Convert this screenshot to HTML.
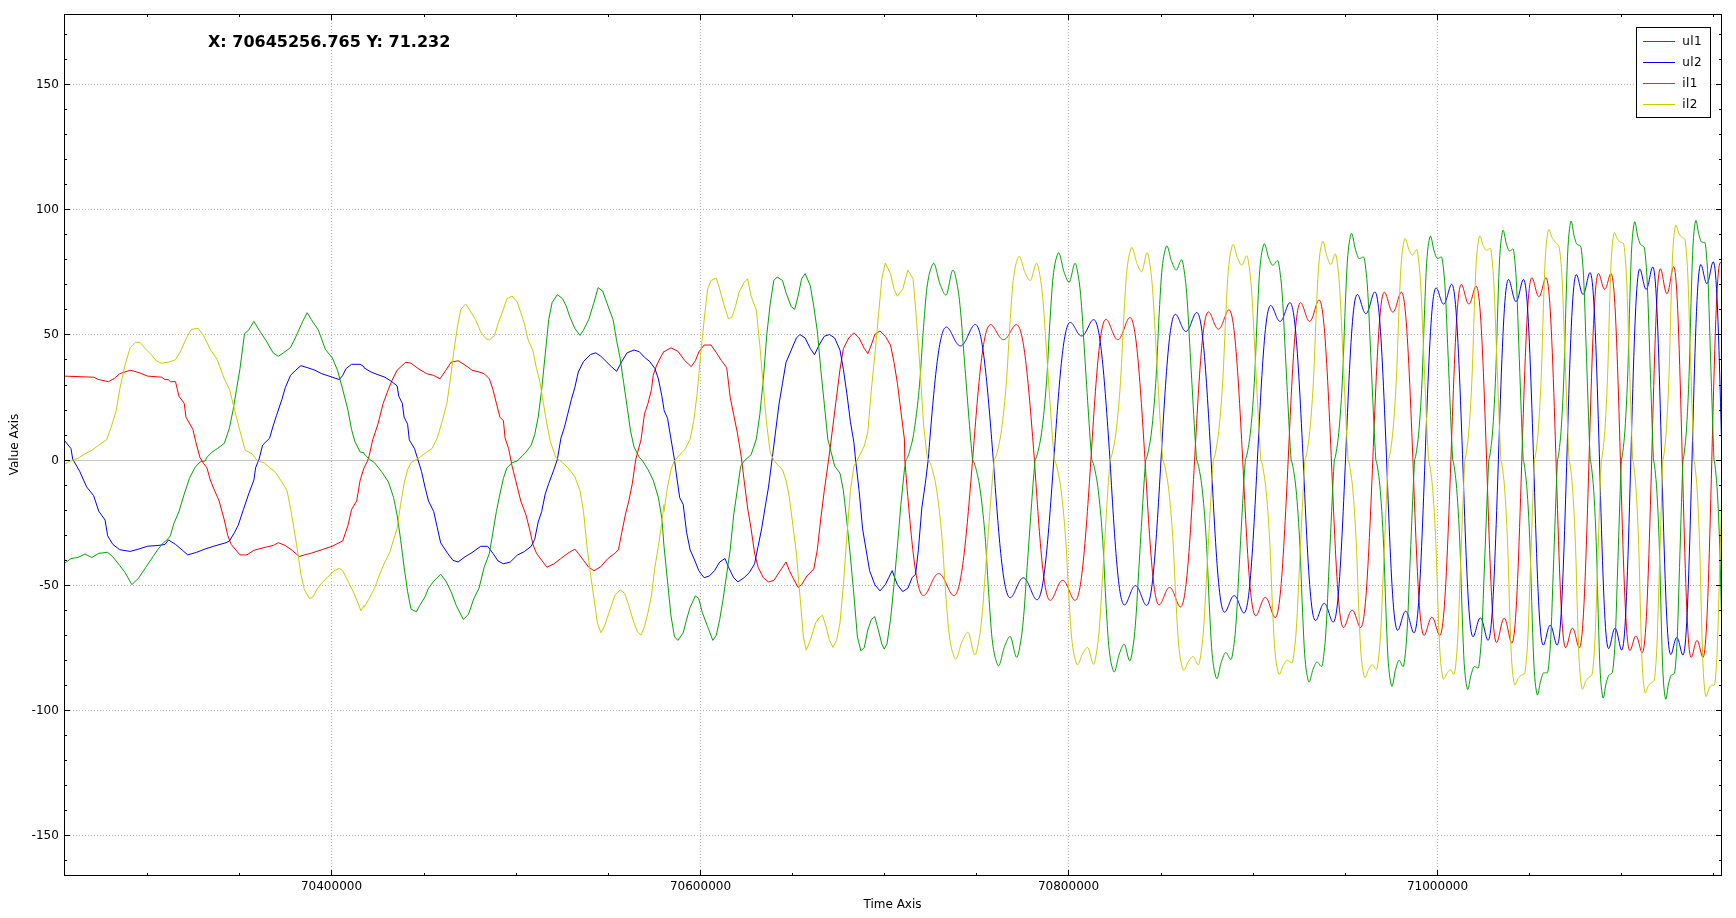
<!DOCTYPE html>
<html><head><meta charset="utf-8"><title>Chart</title>
<style>html,body{margin:0;padding:0;background:#fff;width:1736px;height:918px;overflow:hidden}svg{display:block;will-change:transform}</style>
</head><body>
<svg width="1736" height="918" viewBox="0 0 1736 918">
<rect width="1736" height="918" fill="#fff"/>
<g stroke="#b4b4b4" stroke-width="1" stroke-dasharray="1 2" fill="none"><line x1="331.5" y1="14" x2="331.5" y2="875" /><line x1="700.5" y1="14" x2="700.5" y2="875" /><line x1="1068.5" y1="14" x2="1068.5" y2="875" /><line x1="1437.5" y1="14" x2="1437.5" y2="875" /><line x1="64" y1="84.5" x2="1721" y2="84.5" /><line x1="64" y1="209.5" x2="1721" y2="209.5" /><line x1="64" y1="334.5" x2="1721" y2="334.5" /><line x1="64" y1="585.5" x2="1721" y2="585.5" /><line x1="64" y1="710.5" x2="1721" y2="710.5" /><line x1="64" y1="835.5" x2="1721" y2="835.5" /></g><line x1="64" y1="460.5" x2="1721" y2="460.5" stroke="#c8c8c8" stroke-width="1"/><defs><clipPath id="pc"><rect x="65" y="15" width="1656" height="860"/></clipPath></defs><g clip-path="url(#pc)" fill="none" stroke-width="1" stroke-linejoin="round"><path d="M64.0,376.1 93.6,377.2 98.8,379.6 108.6,381.7 114.5,378.2 119.7,373.7 130.2,370.2 138.9,372.6 147.6,376.1 161.6,377.2 165.0,379.6 168.5,379.6 170.3,381.7 175.5,381.7 179.0,396.3 184.2,403.3 186.0,417.2 192.9,429.4 195.7,441.6 199.9,457.3 203.4,463.2 206.9,467.8 210.3,480.0 214.5,490.4 219.1,500.9 224.3,520.0 227.8,535.7 231.2,544.4 240.0,554.9 246.9,554.9 253.9,550.3 262.6,547.9 273.1,545.5 278.3,542.7 285.3,545.5 292.2,550.3 299.2,556.6 304.4,554.9 311.4,553.1 321.8,549.7 332.3,546.2 342.7,540.9 348.0,525.3 351.5,509.6 356.7,500.9 360.2,480.0 364.0,467.9 367.5,461.0 369.2,455.6 372.7,439.9 377.9,424.2 383.2,403.3 388.4,389.4 391.9,380.7 397.1,370.2 405.8,362.2 411.0,363.2 418.0,368.5 426.7,373.7 433.7,375.4 440.0,378.9 445.9,370.2 451.1,362.2 458.1,360.8 465.0,365.0 472.0,370.2 479.0,372.0 484.2,373.7 489.4,378.9 492.9,389.4 496.4,403.3 499.9,417.2 503.4,420.7 505.1,438.2 508.6,448.6 512.1,466.2 515.6,480.1 520.8,501.0 526.0,515.0 529.5,528.9 533.0,544.6 536.5,553.3 541.7,560.3 546.9,567.2 553.9,563.8 560.9,558.5 567.8,553.3 574.8,549.1 578.3,553.3 583.5,560.3 588.7,567.2 594.0,570.7 600.9,566.6 607.9,558.5 614.9,553.3 618.4,549.8 621.8,532.4 625.3,515.0 628.8,501.0 632.3,483.6 635.8,459.1 641.0,439.9 644.5,413.8 648.0,403.3 651.5,389.4 653.2,375.4 656.7,365.0 660.2,358.0 664.0,351.3 664.0,351.7 671.0,347.8 677.9,351.3 684.9,360.7 691.2,366.6 695.4,360.7 698.8,352.0 704.1,345.0 711.0,345.0 716.3,352.6 721.5,360.7 726.7,367.6 730.2,397.2 733.7,414.7 737.2,432.1 740.7,453.0 744.1,480.1 747.6,508.0 751.1,528.9 754.6,553.3 758.1,567.2 763.3,577.7 768.5,581.9 773.8,580.5 779.0,572.5 786.0,562.0 789.4,570.7 792.9,577.7 798.1,587.5 801.6,584.7 806.9,576.0 813.8,569.0 817.3,549.8 820.8,518.5 824.3,490.6 829.5,453.0 833.0,425.1 836.5,397.2 840.0,369.4 843.4,348.5 848.7,338.0 853.9,332.8 859.1,338.0 864.3,348.5 867.8,353.7 871.3,345.0 874.8,334.5 880.0,331.0 885.3,336.3 890.5,345.0 894.0,362.4 897.4,383.3 900.9,411.2 904.4,439.1 904.8,459.9 905.3,466.1 905.8,472.3 906.3,478.4 906.8,484.5 907.3,490.6 907.8,496.5 908.3,502.4 908.8,508.2 909.3,513.9 909.8,519.4 910.3,524.8 910.8,530.1 911.3,535.2 911.8,540.1 912.3,544.9 912.8,549.4 913.3,553.8 913.8,558.0 914.3,561.9 914.8,565.7 915.3,569.2 915.8,572.5 916.3,575.6 916.8,578.4 917.3,581.0 917.8,583.4 918.3,585.6 918.8,587.5 919.3,589.3 919.8,590.8 920.3,592.1 920.8,593.1 921.3,594.0 921.8,594.7 922.3,595.2 922.8,595.5 923.3,595.6 923.8,595.6 924.3,595.4 924.8,595.1 925.3,594.7 925.8,594.1 926.3,593.4 926.8,592.7 927.3,591.8 927.8,590.9 928.3,589.9 928.8,588.9 929.3,587.8 929.8,586.7 930.3,585.6 930.8,584.5 931.3,583.4 931.8,582.3 932.3,581.2 932.8,580.2 933.3,579.2 933.8,578.3 934.3,577.4 934.8,576.6 935.3,575.9 935.8,575.3 936.3,574.8 936.8,574.4 937.3,574.0 937.8,573.8 938.3,573.6 938.8,573.6 939.3,573.7 939.8,573.9 940.3,574.1 940.8,574.5 941.3,575.0 941.8,575.6 942.3,576.2 942.8,576.9 943.3,577.8 943.8,578.6 944.3,579.6 944.8,580.6 945.3,581.6 945.8,582.7 946.3,583.8 946.8,584.9 947.3,586.0 947.8,587.1 948.3,588.2 948.8,589.3 949.3,590.3 949.8,591.3 950.3,592.2 950.8,593.0 951.3,593.7 951.8,594.4 952.3,594.9 952.8,595.3 953.3,595.5 953.8,595.6 954.3,595.6 954.8,595.4 955.3,595.0 955.8,594.4 956.3,593.7 956.8,592.7 957.3,591.6 957.8,590.2 958.3,588.6 958.8,586.8 959.3,584.8 959.8,582.5 960.3,580.0 960.8,577.3 961.3,574.4 961.8,571.2 962.3,567.8 962.8,564.2 963.3,560.4 963.8,556.3 964.3,552.1 964.8,547.6 965.3,543.0 965.8,538.2 966.3,533.2 966.8,528.0 967.3,522.7 967.8,517.2 968.3,511.6 968.8,505.9 969.3,500.1 969.8,494.2 970.3,488.2 970.8,482.1 971.3,476.0 971.8,469.8 972.3,463.6 972.6,459.9 973.1,453.4 973.6,446.9 974.1,440.5 974.6,434.1 975.1,427.7 975.6,421.5 976.1,415.4 976.6,409.3 977.1,403.5 977.6,397.7 978.1,392.1 978.6,386.7 979.1,381.5 979.6,376.5 980.1,371.7 980.6,367.1 981.1,362.7 981.6,358.6 982.1,354.7 982.6,351.0 983.1,347.6 983.6,344.4 984.1,341.5 984.6,338.8 985.1,336.4 985.6,334.2 986.1,332.3 986.6,330.6 987.1,329.1 987.6,327.9 988.1,326.8 988.6,326.0 989.1,325.4 989.6,325.0 990.1,324.7 990.6,324.6 991.1,324.7 991.6,324.9 992.1,325.3 992.6,325.7 993.1,326.3 993.6,326.9 994.1,327.7 994.6,328.5 995.1,329.3 995.6,330.2 996.1,331.1 996.6,332.0 997.1,332.9 997.6,333.7 998.1,334.6 998.6,335.4 999.1,336.2 999.6,336.9 1000.1,337.5 1000.6,338.1 1001.1,338.6 1001.6,339.0 1002.1,339.3 1002.6,339.5 1003.1,339.6 1003.6,339.7 1004.1,339.6 1004.6,339.4 1005.1,339.2 1005.6,338.8 1006.1,338.4 1006.6,337.9 1007.1,337.3 1007.6,336.6 1008.1,335.9 1008.6,335.1 1009.1,334.2 1009.6,333.4 1010.1,332.5 1010.6,331.6 1011.1,330.7 1011.6,329.8 1012.1,329.0 1012.6,328.1 1013.1,327.4 1013.6,326.7 1014.1,326.1 1014.6,325.5 1015.1,325.1 1015.6,324.8 1016.1,324.7 1016.6,324.7 1017.1,324.8 1017.6,325.1 1018.1,325.6 1018.6,326.3 1019.1,327.2 1019.6,328.3 1020.1,329.7 1020.6,331.2 1021.1,333.0 1021.6,335.1 1022.1,337.3 1022.6,339.9 1023.1,342.6 1023.6,345.7 1024.1,348.9 1024.6,352.4 1025.1,356.2 1025.6,360.2 1026.1,364.4 1026.6,368.9 1027.1,373.6 1027.6,378.5 1028.1,383.6 1028.6,388.9 1029.1,394.4 1029.6,400.0 1030.1,405.8 1030.6,411.7 1031.1,417.8 1031.6,424.0 1032.1,430.3 1032.6,436.6 1033.1,443.0 1033.6,449.5 1034.1,456.0 1034.4,459.9 1034.9,467.5 1035.4,475.0 1035.9,482.5 1036.4,490.0 1036.9,497.3 1037.4,504.5 1037.9,511.5 1038.4,518.4 1038.9,525.1 1039.4,531.6 1039.9,537.8 1040.4,543.8 1040.9,549.6 1041.4,555.0 1041.9,560.2 1042.4,565.1 1042.9,569.7 1043.4,573.9 1043.9,577.8 1044.4,581.4 1044.9,584.7 1045.4,587.7 1045.9,590.3 1046.4,592.6 1046.9,594.5 1047.4,596.2 1047.9,597.6 1048.4,598.7 1048.9,599.5 1049.4,600.0 1049.9,600.3 1050.4,600.4 1050.9,600.2 1051.4,599.9 1051.9,599.3 1052.4,598.6 1052.9,597.8 1053.4,596.9 1053.9,595.8 1054.4,594.7 1054.9,593.5 1055.4,592.3 1055.9,591.0 1056.4,589.8 1056.9,588.5 1057.4,587.3 1057.9,586.2 1058.4,585.1 1058.9,584.1 1059.4,583.3 1059.9,582.5 1060.4,581.8 1060.9,581.2 1061.4,580.8 1061.9,580.5 1062.4,580.4 1062.9,580.4 1063.4,580.5 1063.9,580.8 1064.4,581.2 1064.9,581.8 1065.4,582.5 1065.9,583.3 1066.4,584.1 1066.9,585.1 1067.4,586.2 1067.9,587.3 1068.4,588.5 1068.9,589.8 1069.4,591.0 1069.9,592.3 1070.4,593.5 1070.9,594.7 1071.4,595.8 1071.9,596.9 1072.4,597.8 1072.9,598.6 1073.4,599.3 1073.9,599.9 1074.4,600.2 1074.9,600.4 1075.4,600.3 1075.9,600.0 1076.4,599.5 1076.9,598.7 1077.4,597.6 1077.9,596.2 1078.4,594.5 1078.9,592.6 1079.4,590.3 1079.9,587.7 1080.4,584.7 1080.9,581.4 1081.4,577.8 1081.9,573.9 1082.4,569.7 1082.9,565.1 1083.4,560.2 1083.9,555.0 1084.4,549.6 1084.9,543.8 1085.4,537.8 1085.9,531.6 1086.4,525.1 1086.9,518.4 1087.4,511.5 1087.9,504.5 1088.4,497.3 1088.9,490.0 1089.4,482.5 1089.9,475.0 1090.4,467.5 1090.9,459.9 1091.4,451.9 1091.9,444.0 1092.4,436.1 1092.9,428.3 1093.4,420.7 1093.9,413.1 1094.4,405.8 1094.9,398.6 1095.4,391.7 1095.9,385.0 1096.4,378.5 1096.9,372.4 1097.4,366.5 1097.9,361.0 1098.4,355.8 1098.9,350.9 1099.4,346.4 1099.9,342.2 1100.4,338.4 1100.9,335.0 1101.4,331.9 1101.9,329.1 1102.4,326.8 1102.9,324.8 1103.4,323.1 1103.9,321.7 1104.4,320.7 1104.9,320.0 1105.4,319.5 1105.9,319.3 1106.4,319.4 1106.9,319.7 1107.4,320.2 1107.9,320.9 1108.4,321.7 1108.9,322.7 1109.4,323.8 1109.9,325.0 1110.4,326.3 1110.9,327.6 1111.4,328.9 1111.9,330.3 1112.4,331.6 1112.9,332.8 1113.4,334.0 1113.9,335.2 1114.4,336.2 1114.9,337.1 1115.4,337.9 1115.9,338.6 1116.4,339.1 1116.9,339.4 1117.4,339.6 1117.9,339.7 1118.4,339.6 1118.9,339.3 1119.4,338.8 1119.9,338.3 1120.4,337.5 1120.9,336.7 1121.4,335.7 1121.9,334.6 1122.4,333.4 1122.9,332.1 1123.4,330.7 1123.9,329.3 1124.4,327.9 1124.9,326.5 1125.4,325.1 1125.9,323.8 1126.4,322.5 1126.9,321.3 1127.4,320.3 1127.9,319.3 1128.4,318.6 1128.9,318.0 1129.4,317.6 1129.9,317.5 1130.4,317.6 1130.9,318.0 1131.4,318.7 1131.9,319.6 1132.4,320.9 1132.9,322.6 1133.4,324.5 1133.9,326.9 1134.4,329.5 1134.9,332.6 1135.4,336.0 1135.9,339.8 1136.4,343.9 1136.9,348.5 1137.4,353.3 1137.9,358.5 1138.4,364.1 1138.9,370.0 1139.4,376.2 1139.9,382.6 1140.4,389.4 1140.9,396.4 1141.4,403.6 1141.9,411.0 1142.4,418.6 1142.9,426.3 1143.4,434.2 1143.9,442.2 1144.4,450.2 1144.9,458.3 1145.0,459.9 1145.5,468.7 1146.0,477.4 1146.5,486.1 1147.0,494.7 1147.5,503.1 1148.0,511.3 1148.5,519.3 1149.0,527.1 1149.5,534.6 1150.0,541.8 1150.5,548.7 1151.0,555.2 1151.5,561.3 1152.0,567.1 1152.5,572.4 1153.0,577.4 1153.5,581.9 1154.0,586.0 1154.5,589.7 1155.0,592.9 1155.5,595.7 1156.0,598.2 1156.5,600.2 1157.0,601.8 1157.5,603.1 1158.0,604.0 1158.5,604.5 1159.0,604.8 1159.5,604.8 1160.0,604.5 1160.5,604.0 1161.0,603.3 1161.5,602.4 1162.0,601.4 1162.5,600.3 1163.0,599.1 1163.5,597.8 1164.0,596.5 1164.5,595.2 1165.0,594.0 1165.5,592.8 1166.0,591.6 1166.5,590.6 1167.0,589.7 1167.5,588.9 1168.0,588.3 1168.5,587.8 1169.0,587.5 1169.5,587.4 1170.0,587.4 1170.5,587.7 1171.0,588.1 1171.5,588.6 1172.0,589.4 1172.5,590.2 1173.0,591.2 1173.5,592.4 1174.0,593.6 1174.5,594.9 1175.0,596.3 1175.5,597.7 1176.0,599.0 1176.5,600.4 1177.0,601.7 1177.5,603.0 1178.0,604.1 1178.5,605.0 1179.0,605.8 1179.5,606.4 1180.0,606.8 1180.5,606.9 1181.0,606.7 1181.5,606.2 1182.0,605.4 1182.5,604.2 1183.0,602.6 1183.5,600.7 1184.0,598.3 1184.5,595.6 1185.0,592.3 1185.5,588.7 1186.0,584.6 1186.5,580.1 1187.0,575.2 1187.5,569.9 1188.0,564.1 1188.5,557.9 1189.0,551.4 1189.5,544.5 1190.0,537.3 1190.5,529.7 1191.0,521.9 1191.5,513.8 1192.0,505.4 1192.5,496.9 1193.0,488.3 1193.5,479.5 1194.0,470.6 1194.5,461.7 1194.6,459.9 1195.1,450.7 1195.6,441.5 1196.1,432.4 1196.6,423.4 1197.1,414.6 1197.6,406.0 1198.1,397.6 1198.6,389.5 1199.1,381.7 1199.6,374.3 1200.1,367.2 1200.6,360.5 1201.1,354.2 1201.6,348.3 1202.1,342.8 1202.6,337.8 1203.1,333.3 1203.6,329.2 1204.1,325.6 1204.6,322.4 1205.1,319.7 1205.6,317.4 1206.1,315.6 1206.6,314.1 1207.1,313.0 1207.6,312.3 1208.1,312.0 1208.6,311.9 1209.1,312.1 1209.6,312.6 1210.1,313.3 1210.6,314.2 1211.1,315.2 1211.6,316.4 1212.1,317.6 1212.6,318.9 1213.1,320.2 1213.6,321.6 1214.1,322.9 1214.6,324.1 1215.1,325.2 1215.6,326.2 1216.1,327.1 1216.6,327.9 1217.1,328.5 1217.6,328.9 1218.1,329.1 1218.6,329.2 1219.1,329.0 1219.6,328.7 1220.1,328.2 1220.6,327.5 1221.1,326.6 1221.6,325.6 1222.1,324.5 1222.6,323.3 1223.1,321.9 1223.6,320.5 1224.1,319.1 1224.6,317.7 1225.1,316.3 1225.6,314.9 1226.1,313.7 1226.6,312.5 1227.1,311.6 1227.6,310.8 1228.1,310.2 1228.6,309.9 1229.1,309.9 1229.6,310.1 1230.1,310.8 1230.6,311.8 1231.1,313.1 1231.6,314.9 1232.1,317.1 1232.6,319.8 1233.1,322.9 1233.6,326.5 1234.1,330.5 1234.6,335.1 1235.1,340.0 1235.6,345.5 1236.1,351.3 1236.6,357.7 1237.1,364.4 1237.6,371.5 1238.1,379.0 1238.6,386.9 1239.1,395.0 1239.6,403.5 1240.1,412.2 1240.6,421.1 1241.1,430.2 1241.6,439.4 1242.1,448.7 1242.6,458.0 1242.7,459.9 1243.2,470.2 1243.7,480.4 1244.2,490.5 1244.7,500.5 1245.2,510.2 1245.7,519.7 1246.2,528.9 1246.7,537.8 1247.2,546.3 1247.7,554.4 1248.2,562.0 1248.7,569.2 1249.2,575.9 1249.7,582.1 1250.2,587.7 1250.7,592.8 1251.2,597.4 1251.7,601.4 1252.2,604.9 1252.7,607.9 1253.2,610.3 1253.7,612.3 1254.2,613.8 1254.7,614.9 1255.2,615.5 1255.7,615.7 1256.2,615.6 1256.7,615.2 1257.2,614.5 1257.7,613.6 1258.2,612.5 1258.7,611.2 1259.2,609.8 1259.7,608.4 1260.2,606.9 1260.7,605.4 1261.2,604.0 1261.7,602.6 1262.2,601.4 1262.7,600.3 1263.2,599.3 1263.7,598.5 1264.2,597.9 1264.7,597.6 1265.2,597.4 1265.7,597.5 1266.2,597.8 1266.7,598.3 1267.2,599.0 1267.7,599.9 1268.2,600.9 1268.7,602.2 1269.2,603.5 1269.7,605.0 1270.2,606.6 1270.7,608.1 1271.2,609.7 1271.7,611.2 1272.2,612.7 1272.7,614.1 1273.2,615.2 1273.7,616.2 1274.2,617.0 1274.7,617.4 1275.2,617.5 1275.7,617.3 1276.2,616.7 1276.7,615.7 1277.2,614.2 1277.7,612.2 1278.2,609.7 1278.7,606.7 1279.2,603.2 1279.7,599.1 1280.2,594.5 1280.7,589.3 1281.2,583.6 1281.7,577.3 1282.2,570.6 1282.7,563.3 1283.2,555.6 1283.7,547.4 1284.2,538.8 1284.7,529.8 1285.2,520.5 1285.7,510.8 1286.2,501.0 1286.7,490.9 1287.2,480.6 1287.7,470.3 1288.2,459.9 1288.7,449.0 1289.2,438.1 1289.7,427.3 1290.2,416.7 1290.7,406.4 1291.2,396.3 1291.7,386.6 1292.2,377.3 1292.7,368.5 1293.2,360.1 1293.7,352.2 1294.2,344.9 1294.7,338.2 1295.2,332.0 1295.7,326.5 1296.2,321.5 1296.7,317.2 1297.2,313.5 1297.7,310.3 1298.2,307.7 1298.7,305.7 1299.2,304.2 1299.7,303.3 1300.2,302.7 1300.7,302.6 1301.2,302.9 1301.7,303.5 1302.2,304.4 1302.7,305.5 1303.2,306.8 1303.7,308.3 1304.2,309.8 1304.7,311.4 1305.2,313.0 1305.7,314.6 1306.2,316.1 1306.7,317.4 1307.2,318.6 1307.7,319.6 1308.2,320.4 1308.7,321.0 1309.2,321.3 1309.7,321.4 1310.2,321.2 1310.7,320.8 1311.2,320.1 1311.7,319.2 1312.2,318.1 1312.7,316.8 1313.2,315.4 1313.7,313.8 1314.2,312.1 1314.7,310.3 1315.2,308.6 1315.7,306.9 1316.2,305.3 1316.7,303.8 1317.2,302.5 1317.7,301.4 1318.2,300.6 1318.7,300.1 1319.2,300.0 1319.7,300.4 1320.2,301.1 1320.7,302.4 1321.2,304.2 1321.7,306.6 1322.2,309.5 1322.7,313.1 1323.2,317.3 1323.7,322.0 1324.2,327.4 1324.7,333.5 1325.2,340.1 1325.7,347.3 1326.2,355.1 1326.7,363.4 1327.2,372.2 1327.7,381.5 1328.2,391.2 1328.7,401.3 1329.2,411.7 1329.7,422.4 1330.2,433.3 1330.7,444.3 1331.2,455.4 1331.4,459.9 1331.9,471.8 1332.4,483.7 1332.9,495.4 1333.4,506.9 1333.9,518.2 1334.4,529.1 1334.9,539.6 1335.4,549.6 1335.9,559.2 1336.4,568.2 1336.9,576.6 1337.4,584.4 1337.9,591.5 1338.4,598.0 1338.9,603.8 1339.4,609.0 1339.9,613.5 1340.4,617.3 1340.9,620.4 1341.4,623.0 1341.9,624.9 1342.4,626.3 1342.9,627.1 1343.4,627.5 1343.9,627.5 1344.4,627.0 1344.9,626.3 1345.4,625.3 1345.9,624.0 1346.4,622.6 1346.9,621.1 1347.4,619.5 1347.9,618.0 1348.4,616.4 1348.9,615.0 1349.4,613.7 1349.9,612.6 1350.4,611.6 1350.9,610.9 1351.4,610.4 1351.9,610.2 1352.4,610.2 1352.9,610.5 1353.4,611.0 1353.9,611.8 1354.4,612.8 1354.9,614.0 1355.4,615.3 1355.9,616.7 1356.4,618.3 1356.9,619.8 1357.4,621.4 1357.9,622.9 1358.4,624.3 1358.9,625.5 1359.4,626.5 1359.9,627.1 1360.4,627.5 1360.9,627.5 1361.4,627.0 1361.9,626.0 1362.4,624.6 1362.9,622.5 1363.4,619.8 1363.9,616.6 1364.4,612.6 1364.9,608.0 1365.4,602.7 1365.9,596.8 1366.4,590.2 1366.9,582.9 1367.4,575.0 1367.9,566.4 1368.4,557.3 1368.9,547.7 1369.4,537.5 1369.9,526.9 1370.4,516.0 1370.9,504.7 1371.4,493.1 1371.9,481.3 1372.4,469.5 1372.8,459.9 1373.3,447.4 1373.8,435.0 1374.3,422.7 1374.8,410.7 1375.3,399.0 1375.8,387.7 1376.3,376.8 1376.8,366.5 1377.3,356.7 1377.8,347.5 1378.3,339.0 1378.8,331.2 1379.3,324.1 1379.8,317.7 1380.3,312.1 1380.8,307.2 1381.3,303.0 1381.8,299.6 1382.3,296.9 1382.8,294.8 1383.3,293.4 1383.8,292.5 1384.3,292.2 1384.8,292.4 1385.3,292.9 1385.8,293.9 1386.3,295.1 1386.8,296.6 1387.3,298.3 1387.8,300.0 1388.3,301.8 1388.8,303.6 1389.3,305.4 1389.8,307.0 1390.3,308.4 1390.8,309.7 1391.3,310.7 1391.8,311.5 1392.3,311.9 1392.8,312.1 1393.3,312.0 1393.8,311.6 1394.3,310.9 1394.8,309.9 1395.3,308.7 1395.8,307.3 1396.3,305.7 1396.8,304.0 1397.3,302.2 1397.8,300.4 1398.3,298.6 1398.8,296.9 1399.3,295.4 1399.8,294.1 1400.3,293.1 1400.8,292.4 1401.3,292.2 1401.8,292.4 1402.3,293.2 1402.8,294.5 1403.3,296.4 1403.8,299.0 1404.3,302.3 1404.8,306.3 1405.3,311.0 1405.8,316.5 1406.3,322.7 1406.8,329.7 1407.3,337.4 1407.8,345.8 1408.3,354.8 1408.8,364.5 1409.3,374.7 1409.8,385.5 1410.3,396.7 1410.8,408.3 1411.3,420.3 1411.8,432.5 1412.3,444.9 1412.8,457.4 1412.9,459.9 1413.4,473.5 1413.9,487.0 1414.4,500.3 1414.9,513.4 1415.4,526.1 1415.9,538.3 1416.4,549.9 1416.9,561.0 1417.4,571.4 1417.9,581.1 1418.4,590.1 1418.9,598.2 1419.4,605.5 1419.9,612.0 1420.4,617.6 1420.9,622.4 1421.4,626.4 1421.9,629.6 1422.4,632.0 1422.9,633.8 1423.4,634.9 1423.9,635.3 1424.4,635.3 1424.9,634.7 1425.4,633.8 1425.9,632.6 1426.4,631.1 1426.9,629.4 1427.4,627.6 1427.9,625.9 1428.4,624.1 1428.9,622.4 1429.4,621.0 1429.9,619.7 1430.4,618.6 1430.9,617.8 1431.4,617.4 1431.9,617.2 1432.4,617.4 1432.9,617.8 1433.4,618.6 1433.9,619.7 1434.4,621.0 1434.9,622.4 1435.4,624.1 1435.9,625.9 1436.4,627.6 1436.9,629.4 1437.4,631.1 1437.9,632.6 1438.4,633.8 1438.9,634.7 1439.4,635.3 1439.9,635.3 1440.4,634.9 1440.9,633.8 1441.4,632.0 1441.9,629.6 1442.4,626.4 1442.9,622.4 1443.4,617.6 1443.9,612.0 1444.4,605.5 1444.9,598.2 1445.4,590.1 1445.9,581.1 1446.4,571.4 1446.9,561.0 1447.4,549.9 1447.9,538.3 1448.4,526.1 1448.9,513.4 1449.4,500.3 1449.9,487.0 1450.4,473.5 1450.9,459.9 1451.4,445.4 1451.9,430.9 1452.4,416.7 1452.9,402.9 1453.4,389.5 1453.9,376.7 1454.4,364.4 1454.9,353.0 1455.4,342.3 1455.9,332.4 1456.4,323.5 1456.9,315.5 1457.4,308.4 1457.9,302.3 1458.4,297.2 1458.9,293.0 1459.4,289.7 1459.9,287.3 1460.4,285.6 1460.9,284.7 1461.4,284.5 1461.9,284.8 1462.4,285.7 1462.9,287.0 1463.4,288.5 1463.9,290.4 1464.4,292.3 1464.9,294.3 1465.4,296.3 1465.9,298.2 1466.4,299.9 1466.9,301.4 1467.4,302.6 1467.9,303.4 1468.4,304.0 1468.9,304.1 1469.4,303.9 1469.9,303.3 1470.4,302.4 1470.9,301.2 1471.4,299.7 1471.9,298.1 1472.4,296.3 1472.9,294.4 1473.4,292.5 1473.9,290.7 1474.4,289.1 1474.9,287.8 1475.4,286.8 1475.9,286.3 1476.4,286.4 1476.9,287.0 1477.4,288.4 1477.9,290.5 1478.4,293.4 1478.9,297.2 1479.4,301.9 1479.9,307.6 1480.4,314.2 1480.9,321.7 1481.4,330.2 1481.9,339.6 1482.4,349.8 1482.9,360.9 1483.4,372.7 1483.9,385.1 1484.4,398.2 1484.9,411.7 1485.4,425.6 1485.9,439.8 1486.4,454.1 1486.6,459.9 1487.1,475.6 1487.6,491.2 1488.1,506.5 1488.6,521.4 1489.1,535.7 1489.6,549.5 1490.1,562.5 1490.6,574.7 1491.1,586.0 1491.6,596.3 1492.1,605.6 1492.6,613.9 1493.1,621.0 1493.6,627.1 1494.1,632.1 1494.6,636.1 1495.1,639.0 1495.6,641.0 1496.1,642.2 1496.6,642.5 1497.1,642.2 1497.6,641.2 1498.1,639.7 1498.6,637.8 1499.1,635.6 1499.6,633.3 1500.1,630.8 1500.6,628.3 1501.1,626.0 1501.6,623.8 1502.1,622.0 1502.6,620.4 1503.1,619.2 1503.6,618.5 1504.1,618.2 1504.6,618.4 1505.1,619.0 1505.6,620.0 1506.1,621.5 1506.6,623.3 1507.1,625.4 1507.6,627.7 1508.1,630.1 1508.6,632.7 1509.1,635.1 1509.6,637.4 1510.1,639.5 1510.6,641.1 1511.1,642.3 1511.6,643.0 1512.1,642.9 1512.6,642.1 1513.1,640.5 1513.6,637.9 1514.1,634.3 1514.6,629.7 1515.1,624.1 1515.6,617.3 1516.1,609.5 1516.6,600.6 1517.1,590.6 1517.6,579.7 1518.1,567.8 1518.6,555.1 1519.1,541.6 1519.6,527.4 1520.1,512.6 1520.6,497.4 1521.1,481.9 1521.6,466.2 1521.8,459.9 1522.3,444.2 1522.8,428.6 1523.3,413.4 1523.8,398.5 1524.3,384.1 1524.8,370.4 1525.3,357.4 1525.8,345.3 1526.3,334.0 1526.8,323.8 1527.3,314.6 1527.8,306.4 1528.3,299.3 1528.8,293.3 1529.3,288.3 1529.8,284.4 1530.3,281.4 1530.8,279.4 1531.3,278.2 1531.8,277.7 1532.3,278.0 1532.8,278.8 1533.3,280.0 1533.8,281.6 1534.3,283.5 1534.8,285.5 1535.3,287.6 1535.8,289.6 1536.3,291.5 1536.8,293.2 1537.3,294.6 1537.8,295.6 1538.3,296.3 1538.8,296.6 1539.3,296.5 1539.8,295.9 1540.3,295.0 1540.8,293.8 1541.3,292.2 1541.8,290.4 1542.3,288.4 1542.8,286.4 1543.3,284.3 1543.8,282.4 1544.3,280.6 1544.8,279.2 1545.3,278.2 1545.8,277.8 1546.3,277.9 1546.8,278.8 1547.3,280.5 1547.8,283.1 1548.3,286.6 1548.8,291.2 1549.3,296.8 1549.8,303.4 1550.3,311.2 1550.8,320.0 1551.3,329.8 1551.8,340.7 1552.3,352.4 1552.8,365.1 1553.3,378.5 1553.8,392.7 1554.3,407.3 1554.8,422.5 1555.3,438.0 1555.8,453.6 1556.0,459.9 1556.5,476.7 1557.0,493.3 1557.5,509.6 1558.0,525.4 1558.5,540.6 1559.0,555.1 1559.5,568.8 1560.0,581.5 1560.5,593.2 1561.0,603.8 1561.5,613.2 1562.0,621.5 1562.5,628.5 1563.0,634.4 1563.5,639.1 1564.0,642.7 1564.5,645.3 1565.0,646.9 1565.5,647.6 1566.0,647.5 1566.5,646.8 1567.0,645.6 1567.5,643.9 1568.0,642.0 1568.5,639.8 1569.0,637.6 1569.5,635.4 1570.0,633.4 1570.5,631.7 1571.0,630.2 1571.5,629.1 1572.0,628.4 1572.5,628.2 1573.0,628.4 1573.5,629.1 1574.0,630.2 1574.5,631.7 1575.0,633.4 1575.5,635.4 1576.0,637.6 1576.5,639.8 1577.0,642.0 1577.5,643.9 1578.0,645.6 1578.5,646.8 1579.0,647.5 1579.5,647.6 1580.0,646.9 1580.5,645.3 1581.0,642.7 1581.5,639.1 1582.0,634.4 1582.5,628.5 1583.0,621.5 1583.5,613.2 1584.0,603.8 1584.5,593.2 1585.0,581.5 1585.5,568.8 1586.0,555.1 1586.5,540.6 1587.0,525.4 1587.5,509.6 1588.0,493.3 1588.5,476.7 1589.0,459.9 1589.5,442.7 1590.0,425.7 1590.5,409.1 1591.0,392.9 1591.5,377.4 1592.0,362.7 1592.5,348.9 1593.0,336.2 1593.5,324.6 1594.0,314.1 1594.5,304.9 1595.0,296.9 1595.5,290.2 1596.0,284.7 1596.5,280.4 1597.0,277.2 1597.5,275.0 1598.0,273.8 1598.5,273.5 1599.0,273.8 1599.5,274.8 1600.0,276.1 1600.5,277.8 1601.0,279.7 1601.5,281.7 1602.0,283.6 1602.5,285.4 1603.0,286.9 1603.5,288.1 1604.0,288.9 1604.5,289.3 1605.0,289.3 1605.5,288.8 1606.0,287.9 1606.5,286.6 1607.0,285.1 1607.5,283.3 1608.0,281.3 1608.5,279.4 1609.0,277.5 1609.5,275.8 1610.0,274.5 1610.5,273.7 1611.0,273.5 1611.5,274.0 1612.0,275.4 1612.5,277.7 1613.0,281.2 1613.5,285.7 1614.0,291.4 1614.5,298.4 1615.0,306.6 1615.5,316.1 1616.0,326.8 1616.5,338.7 1617.0,351.6 1617.5,365.6 1618.0,380.5 1618.5,396.1 1619.0,412.4 1619.5,429.1 1620.0,446.2 1620.4,459.9 1620.9,477.4 1621.4,494.8 1621.9,511.8 1622.4,528.3 1622.9,544.1 1623.4,559.1 1623.9,573.2 1624.4,586.2 1624.9,598.1 1625.4,608.8 1625.9,618.2 1626.4,626.4 1626.9,633.3 1627.4,638.9 1627.9,643.3 1628.4,646.6 1628.9,648.9 1629.4,650.1 1629.9,650.6 1630.4,650.3 1630.9,649.4 1631.4,648.1 1631.9,646.5 1632.4,644.7 1632.9,642.8 1633.4,641.0 1633.9,639.3 1634.4,637.9 1634.9,636.9 1635.4,636.2 1635.9,636.0 1636.4,636.2 1636.9,636.8 1637.4,637.8 1637.9,639.2 1638.4,640.9 1638.9,642.9 1639.4,644.9 1639.9,646.9 1640.4,648.8 1640.9,650.5 1641.4,651.7 1641.9,652.5 1642.4,652.5 1642.9,651.8 1643.4,650.2 1643.9,647.6 1644.4,643.8 1644.9,638.9 1645.4,632.7 1645.9,625.2 1646.4,616.5 1646.9,606.4 1647.4,595.1 1647.9,582.6 1648.4,569.0 1648.9,554.4 1649.4,538.8 1649.9,522.5 1650.4,505.6 1650.9,488.2 1651.4,470.6 1651.7,459.9 1652.2,441.0 1652.7,422.3 1653.2,404.1 1653.7,386.5 1654.2,369.7 1654.7,353.8 1655.2,339.1 1655.7,325.7 1656.2,313.6 1656.7,303.0 1657.2,293.8 1657.7,286.2 1658.2,280.0 1658.7,275.2 1659.2,271.9 1659.7,269.8 1660.2,268.9 1660.7,269.0 1661.2,270.0 1661.7,271.7 1662.2,274.0 1662.7,276.6 1663.2,279.5 1663.7,282.4 1664.2,285.2 1664.7,287.8 1665.2,290.0 1665.7,291.8 1666.2,293.0 1666.7,293.5 1667.2,293.5 1667.7,292.8 1668.2,291.5 1668.7,289.7 1669.2,287.4 1669.7,284.7 1670.2,281.7 1670.7,278.6 1671.2,275.6 1671.7,272.7 1672.2,270.2 1672.7,268.3 1673.2,267.1 1673.7,266.7 1674.2,267.4 1674.7,269.2 1675.2,272.3 1675.7,276.8 1676.2,282.8 1676.7,290.2 1677.2,299.2 1677.7,309.7 1678.2,321.6 1678.7,334.9 1679.2,349.5 1679.7,365.3 1680.2,382.2 1680.7,399.8 1681.2,418.2 1681.7,437.0 1682.2,456.1 1682.3,459.9 1682.8,479.2 1683.3,498.4 1683.8,517.1 1684.3,535.1 1684.8,552.3 1685.3,568.5 1685.8,583.6 1686.3,597.4 1686.8,609.8 1687.3,620.7 1687.8,630.1 1688.3,638.1 1688.8,644.5 1689.3,649.6 1689.8,653.2 1690.3,655.7 1690.8,657.0 1691.3,657.3 1691.8,656.7 1692.3,655.5 1692.8,653.9 1693.3,651.8 1693.8,649.6 1694.3,647.4 1694.8,645.4 1695.3,643.5 1695.8,642.1 1696.3,641.1 1696.8,640.6 1697.3,640.6 1697.8,641.1 1698.3,642.1 1698.8,643.5 1699.3,645.4 1699.8,647.4 1700.3,649.6 1700.8,651.8 1701.3,653.9 1701.8,655.5 1702.3,656.7 1702.8,657.3 1703.3,657.0 1703.8,655.7 1704.3,653.2 1704.8,649.6 1705.3,644.5 1705.8,638.1 1706.3,630.1 1706.8,620.7 1707.3,609.8 1707.8,597.4 1708.3,583.6 1708.8,568.5 1709.3,552.3 1709.8,535.1 1710.3,517.1 1710.8,498.4 1711.3,479.2 1711.8,459.9 1712.3,440.0 1712.8,420.4 1713.3,401.3 1713.8,382.8 1714.3,365.2 1714.8,348.7 1715.3,333.5 1715.8,319.6 1716.3,307.1 1716.8,296.3 1717.3,286.9 1717.8,279.2 1718.3,273.1 1718.8,268.4 1719.3,265.1 1719.8,263.2 1720.3,262.4 1720.8,262.6 1721.3,263.6 1721.8,265.3 1722.3,267.4 1722.8,269.9 1723.3,272.4 1723.8,274.9 1724.3,277.2 1724.8,279.1 1725.3,280.7 1725.8,281.6 1726.3,282.1 1726.8,281.9 1727.3,281.1 1727.8,279.8 1728.3,278.0 1728.8,275.9 1729.3,273.4 1729.8,270.9 1730.3,268.4 1730.8,266.1 1731.3,264.2 1731.8,262.9 1732.3,262.4 1732.8,262.7 1733.3,264.2 1733.8,266.9 1734.3,271.0 1734.8,276.6 1735.3,283.7 1735.8,292.3 1736.3,302.6 1736.8,314.4 1737.3,327.7 1737.8,342.5 1738.3,358.5 1738.8,375.7 1739.3,393.8 1739.8,412.7 1740.3,432.2 1740.8,451.9 1741.0,459.9" stroke="#ff0000"/><path d="M64.0,439.9 71.0,448.6 72.7,459.1 79.7,471.3 86.6,486.9 93.6,495.6 98.8,511.3 105.1,520.0 107.6,535.7 112.8,544.4 119.7,549.7 130.2,551.4 138.9,549.0 147.6,546.2 158.1,545.5 165.0,544.4 168.5,539.9 175.5,544.4 182.5,550.3 187.7,554.9 196.4,552.4 205.1,549.0 213.8,546.2 226.0,542.7 229.5,540.9 234.7,532.2 238.2,525.3 243.4,509.6 248.7,493.9 253.9,480.0 255.6,467.8 259.1,459.1 262.6,445.1 269.6,438.2 273.1,426.0 276.5,415.5 281.8,399.8 285.3,387.6 290.5,375.4 295.7,370.2 300.9,365.7 307.9,367.8 314.9,370.2 321.8,373.7 332.3,377.2 339.3,379.6 342.7,375.4 346.2,368.5 351.5,364.3 360.2,364.3 364.0,366.7 364.0,367.8 371.0,372.0 377.9,374.7 384.9,377.2 391.9,381.7 397.1,385.9 398.8,396.3 402.3,403.3 404.1,417.2 407.6,424.2 409.3,439.9 414.5,448.6 421.5,471.4 425.0,487.1 428.5,501.0 433.7,511.5 437.2,527.2 440.7,542.9 447.6,553.3 452.9,560.3 458.1,562.0 465.0,556.8 472.0,552.6 480.7,546.3 487.7,546.3 492.9,553.3 498.1,561.0 503.4,563.8 510.3,562.0 517.3,555.1 524.3,551.6 531.2,546.3 534.7,539.4 538.2,522.0 541.7,511.5 545.2,494.1 548.7,483.6 553.9,469.7 557.4,459.1 560.9,438.2 564.3,427.7 567.8,413.8 571.3,399.8 574.8,387.6 578.3,372.0 583.5,361.5 590.5,354.5 595.7,352.8 600.9,356.3 606.2,361.5 611.4,366.7 616.6,371.3 621.8,361.5 627.1,352.8 634.0,350.0 639.3,351.7 644.5,357.3 649.7,361.5 654.9,368.5 658.4,378.9 661.9,396.3 664.0,409.4 664.0,410.3 667.5,418.2 671.0,439.1 674.5,460.0 676.2,473.2 679.7,497.6 683.2,504.5 686.6,532.4 690.1,549.8 695.4,562.0 698.8,570.7 704.1,577.7 709.3,576.0 714.5,570.7 719.7,562.0 725.0,558.5 728.5,567.2 733.7,577.7 737.9,581.9 744.1,577.7 749.4,572.5 754.6,563.8 758.1,546.3 761.6,528.9 765.0,508.0 768.5,487.1 772.0,460.0 775.5,432.1 779.0,404.2 782.5,383.3 786.0,362.4 791.2,350.2 796.4,338.0 799.9,334.5 805.1,338.0 810.3,348.5 814.5,354.7 819.1,345.0 824.3,336.3 829.5,334.5 834.7,338.0 840.0,350.2 843.4,369.4 846.9,393.8 850.4,421.6 853.9,442.5 855.6,460.0 859.1,490.6 862.6,528.9 866.1,549.8 869.6,570.7 874.8,584.7 880.0,590.9 885.3,584.7 888.7,577.7 892.2,570.7 894.7,577.7 897.4,584.7 902.7,591.6 907.9,588.2 912.1,577.7 915.6,574.2 918.4,549.8 921.8,508.0 925.3,483.6 928.2,459.9 928.7,453.6 929.2,447.4 929.7,441.2 930.2,435.0 930.7,429.0 931.2,422.9 931.7,417.0 932.2,411.2 932.7,405.5 933.2,400.0 933.7,394.5 934.2,389.3 934.7,384.2 935.2,379.3 935.7,374.6 936.2,370.1 936.7,365.8 937.2,361.7 937.7,357.9 938.2,354.2 938.7,350.8 939.2,347.7 939.7,344.7 940.2,342.0 940.7,339.6 941.2,337.4 941.7,335.4 942.2,333.6 942.7,332.1 943.2,330.7 943.7,329.6 944.2,328.7 944.7,328.1 945.2,327.6 945.7,327.2 946.2,327.1 946.7,327.1 947.2,327.3 947.7,327.6 948.2,328.0 948.7,328.6 949.2,329.3 949.7,330.0 950.2,330.8 950.7,331.7 951.2,332.7 951.7,333.7 952.2,334.7 952.7,335.7 953.2,336.8 953.7,337.8 954.2,338.8 954.7,339.8 955.2,340.7 955.7,341.6 956.2,342.4 956.7,343.1 957.2,343.8 957.7,344.4 958.2,344.9 958.7,345.3 959.2,345.6 959.7,345.8 960.2,345.9 960.7,345.9 961.2,345.8 961.7,345.6 962.2,345.3 962.7,344.9 963.2,344.4 963.7,343.8 964.2,343.1 964.7,342.3 965.2,341.4 965.7,340.5 966.2,339.5 966.7,338.5 967.2,337.4 967.7,336.3 968.2,335.2 968.7,334.1 969.2,333.0 969.7,331.9 970.2,330.8 970.7,329.7 971.2,328.8 971.7,327.9 972.2,327.0 972.7,326.3 973.2,325.7 973.7,325.2 974.2,324.8 974.7,324.5 975.2,324.5 975.7,324.6 976.2,324.8 976.7,325.3 977.2,325.9 977.7,326.8 978.2,327.9 978.7,329.2 979.2,330.7 979.7,332.4 980.2,334.4 980.7,336.6 981.2,339.1 981.7,341.8 982.2,344.7 982.7,347.9 983.2,351.3 983.7,355.0 984.2,358.9 984.7,363.0 985.2,367.4 985.7,371.9 986.2,376.7 986.7,381.6 987.2,386.8 987.7,392.1 988.2,397.6 988.7,403.2 989.2,409.0 989.7,414.9 990.2,421.0 990.7,427.1 991.2,433.3 991.7,439.6 992.2,445.9 992.7,452.2 993.2,458.6 993.3,459.9 993.8,466.9 994.3,473.8 994.8,480.8 995.3,487.6 995.8,494.4 996.3,501.1 996.8,507.6 997.3,514.0 997.8,520.3 998.3,526.4 998.8,532.3 999.3,538.0 999.8,543.5 1000.3,548.7 1000.8,553.7 1001.3,558.5 1001.8,563.0 1002.3,567.2 1002.8,571.1 1003.3,574.8 1003.8,578.2 1004.3,581.3 1004.8,584.1 1005.3,586.7 1005.8,588.9 1006.3,590.9 1006.8,592.6 1007.3,594.1 1007.8,595.3 1008.3,596.2 1008.8,596.9 1009.3,597.4 1009.8,597.6 1010.3,597.7 1010.8,597.6 1011.3,597.3 1011.8,596.8 1012.3,596.2 1012.8,595.4 1013.3,594.6 1013.8,593.7 1014.3,592.6 1014.8,591.6 1015.3,590.4 1015.8,589.3 1016.3,588.1 1016.8,587.0 1017.3,585.8 1017.8,584.7 1018.3,583.7 1018.8,582.7 1019.3,581.7 1019.8,580.9 1020.3,580.1 1020.8,579.4 1021.3,578.9 1021.8,578.4 1022.3,578.1 1022.8,577.9 1023.3,577.9 1023.8,577.9 1024.3,578.1 1024.8,578.4 1025.3,578.8 1025.8,579.4 1026.3,580.0 1026.8,580.8 1027.3,581.7 1027.8,582.6 1028.3,583.7 1028.8,584.8 1029.3,585.9 1029.8,587.1 1030.3,588.3 1030.8,589.6 1031.3,590.8 1031.8,592.1 1032.3,593.2 1032.8,594.4 1033.3,595.5 1033.8,596.5 1034.3,597.4 1034.8,598.1 1035.3,598.8 1035.8,599.3 1036.3,599.6 1036.8,599.8 1037.3,599.7 1037.8,599.5 1038.3,599.0 1038.8,598.3 1039.3,597.4 1039.8,596.2 1040.3,594.7 1040.8,593.0 1041.3,591.0 1041.8,588.7 1042.3,586.1 1042.8,583.2 1043.3,580.1 1043.8,576.6 1044.3,572.9 1044.8,568.9 1045.3,564.6 1045.8,560.0 1046.3,555.2 1046.8,550.1 1047.3,544.8 1047.8,539.2 1048.3,533.4 1048.8,527.4 1049.3,521.3 1049.8,514.9 1050.3,508.4 1050.8,501.7 1051.3,494.9 1051.8,488.1 1052.3,481.1 1052.8,474.1 1053.3,467.0 1053.8,459.9 1054.3,452.7 1054.8,445.5 1055.3,438.3 1055.8,431.2 1056.3,424.2 1056.8,417.3 1057.3,410.6 1057.8,404.0 1058.3,397.6 1058.8,391.3 1059.3,385.3 1059.8,379.5 1060.3,374.0 1060.8,368.7 1061.3,363.7 1061.8,359.0 1062.3,354.5 1062.8,350.3 1063.3,346.5 1063.8,342.9 1064.3,339.7 1064.8,336.7 1065.3,334.0 1065.8,331.7 1066.3,329.6 1066.8,327.8 1067.3,326.3 1067.8,325.1 1068.3,324.1 1068.8,323.3 1069.3,322.8 1069.8,322.5 1070.3,322.4 1070.8,322.5 1071.3,322.7 1071.8,323.1 1072.3,323.7 1072.8,324.3 1073.3,325.0 1073.8,325.8 1074.3,326.7 1074.8,327.6 1075.3,328.5 1075.8,329.4 1076.3,330.4 1076.8,331.2 1077.3,332.1 1077.8,332.9 1078.3,333.6 1078.8,334.2 1079.3,334.8 1079.8,335.2 1080.3,335.6 1080.8,335.8 1081.3,335.9 1081.8,335.9 1082.3,335.8 1082.8,335.6 1083.3,335.2 1083.8,334.8 1084.3,334.2 1084.8,333.5 1085.3,332.8 1085.8,331.9 1086.3,331.0 1086.8,330.1 1087.3,329.1 1087.8,328.0 1088.3,327.0 1088.8,325.9 1089.3,324.9 1089.8,323.9 1090.3,323.0 1090.8,322.1 1091.3,321.4 1091.8,320.7 1092.3,320.2 1092.8,319.8 1093.3,319.6 1093.8,319.6 1094.3,319.8 1094.8,320.2 1095.3,320.8 1095.8,321.7 1096.3,322.9 1096.8,324.3 1097.3,326.0 1097.8,328.0 1098.3,330.2 1098.8,332.8 1099.3,335.7 1099.8,338.9 1100.3,342.4 1100.8,346.3 1101.3,350.4 1101.8,354.8 1102.3,359.6 1102.8,364.6 1103.3,369.9 1103.8,375.4 1104.3,381.2 1104.8,387.3 1105.3,393.6 1105.8,400.1 1106.3,406.7 1106.8,413.6 1107.3,420.6 1107.8,427.7 1108.3,434.9 1108.8,442.2 1109.3,449.6 1109.8,456.9 1110.0,459.9 1110.5,468.5 1111.0,477.1 1111.5,485.6 1112.0,494.0 1112.5,502.2 1113.0,510.3 1113.5,518.2 1114.0,525.9 1114.5,533.3 1115.0,540.4 1115.5,547.2 1116.0,553.7 1116.5,559.8 1117.0,565.5 1117.5,570.9 1118.0,575.9 1118.5,580.5 1119.0,584.6 1119.5,588.4 1120.0,591.8 1120.5,594.7 1121.0,597.3 1121.5,599.4 1122.0,601.2 1122.5,602.6 1123.0,603.7 1123.5,604.4 1124.0,604.8 1124.5,604.9 1125.0,604.8 1125.5,604.4 1126.0,603.8 1126.5,603.0 1127.0,602.0 1127.5,600.9 1128.0,599.7 1128.5,598.4 1129.0,597.1 1129.5,595.8 1130.0,594.4 1130.5,593.1 1131.0,591.8 1131.5,590.6 1132.0,589.5 1132.5,588.5 1133.0,587.7 1133.5,586.9 1134.0,586.4 1134.5,585.9 1135.0,585.7 1135.5,585.6 1136.0,585.7 1136.5,586.0 1137.0,586.5 1137.5,587.1 1138.0,587.8 1138.5,588.7 1139.0,589.7 1139.5,590.9 1140.0,592.1 1140.5,593.4 1141.0,594.8 1141.5,596.1 1142.0,597.5 1142.5,598.8 1143.0,600.1 1143.5,601.4 1144.0,602.5 1144.5,603.4 1145.0,604.3 1145.5,604.9 1146.0,605.3 1146.5,605.4 1147.0,605.3 1147.5,604.9 1148.0,604.2 1148.5,603.1 1149.0,601.7 1149.5,599.9 1150.0,597.8 1150.5,595.2 1151.0,592.3 1151.5,588.9 1152.0,585.1 1152.5,580.9 1153.0,576.3 1153.5,571.3 1154.0,565.9 1154.5,560.2 1155.0,554.0 1155.5,547.5 1156.0,540.7 1156.5,533.6 1157.0,526.1 1157.5,518.4 1158.0,510.5 1158.5,502.4 1159.0,494.1 1159.5,485.7 1160.0,477.1 1160.5,468.5 1161.0,459.9 1161.5,451.2 1162.0,442.5 1162.5,433.9 1163.0,425.4 1163.5,417.1 1164.0,408.9 1164.5,400.9 1165.0,393.2 1165.5,385.7 1166.0,378.6 1166.5,371.7 1167.0,365.2 1167.5,359.1 1168.0,353.3 1168.5,347.9 1169.0,342.9 1169.5,338.4 1170.0,334.2 1170.5,330.5 1171.0,327.2 1171.5,324.2 1172.0,321.7 1172.5,319.6 1173.0,317.9 1173.5,316.5 1174.0,315.5 1174.5,314.8 1175.0,314.4 1175.5,314.3 1176.0,314.5 1176.5,314.9 1177.0,315.5 1177.5,316.3 1178.0,317.2 1178.5,318.3 1179.0,319.4 1179.5,320.7 1180.0,321.9 1180.5,323.2 1181.0,324.4 1181.5,325.6 1182.0,326.7 1182.5,327.8 1183.0,328.7 1183.5,329.6 1184.0,330.2 1184.5,330.8 1185.0,331.2 1185.5,331.4 1186.0,331.4 1186.5,331.3 1187.0,331.0 1187.5,330.5 1188.0,329.9 1188.5,329.1 1189.0,328.2 1189.5,327.2 1190.0,326.1 1190.5,324.8 1191.0,323.6 1191.5,322.2 1192.0,320.9 1192.5,319.6 1193.0,318.3 1193.5,317.0 1194.0,315.9 1194.5,314.9 1195.0,314.0 1195.5,313.3 1196.0,312.8 1196.5,312.6 1197.0,312.6 1197.5,312.9 1198.0,313.5 1198.5,314.4 1199.0,315.7 1199.5,317.4 1200.0,319.4 1200.5,321.9 1201.0,324.8 1201.5,328.0 1202.0,331.7 1202.5,335.9 1203.0,340.4 1203.5,345.4 1204.0,350.7 1204.5,356.5 1205.0,362.7 1205.5,369.2 1206.0,376.1 1206.5,383.3 1207.0,390.8 1207.5,398.6 1208.0,406.6 1208.5,414.8 1209.0,423.3 1209.5,431.8 1210.0,440.5 1210.5,449.3 1211.0,458.1 1211.1,459.9 1211.6,469.7 1212.1,479.4 1212.6,489.0 1213.1,498.5 1213.6,507.8 1214.1,516.9 1214.6,525.7 1215.1,534.2 1215.6,542.4 1216.1,550.2 1216.6,557.5 1217.1,564.5 1217.6,571.0 1218.1,577.1 1218.6,582.6 1219.1,587.7 1219.6,592.2 1220.1,596.3 1220.6,599.9 1221.1,603.0 1221.6,605.6 1222.1,607.7 1222.6,609.4 1223.1,610.7 1223.6,611.6 1224.1,612.1 1224.6,612.2 1225.1,612.1 1225.6,611.7 1226.1,611.0 1226.6,610.2 1227.1,609.1 1227.6,608.0 1228.1,606.7 1228.6,605.4 1229.1,604.1 1229.6,602.7 1230.1,601.5 1230.6,600.2 1231.1,599.1 1231.6,598.1 1232.1,597.3 1232.6,596.6 1233.1,596.1 1233.6,595.8 1234.1,595.7 1234.6,595.7 1235.1,596.0 1235.6,596.4 1236.1,597.1 1236.6,597.9 1237.1,598.8 1237.6,599.9 1238.1,601.1 1238.6,602.4 1239.1,603.8 1239.6,605.1 1240.1,606.5 1240.6,607.8 1241.1,609.1 1241.6,610.2 1242.1,611.2 1242.6,612.0 1243.1,612.6 1243.6,613.0 1244.1,613.0 1244.6,612.7 1245.1,612.1 1245.6,611.0 1246.1,609.6 1246.6,607.7 1247.1,605.4 1247.6,602.6 1248.1,599.3 1248.6,595.5 1249.1,591.2 1249.6,586.4 1250.1,581.1 1250.6,575.3 1251.1,569.1 1251.6,562.3 1252.1,555.2 1252.6,547.6 1253.1,539.6 1253.6,531.2 1254.1,522.5 1254.6,513.6 1255.1,504.4 1255.6,494.9 1256.1,485.3 1256.6,475.6 1257.1,465.8 1257.4,459.9 1257.9,449.9 1258.4,439.9 1258.9,430.1 1259.4,420.4 1259.9,410.9 1260.4,401.6 1260.9,392.6 1261.4,383.9 1261.9,375.6 1262.4,367.6 1262.9,360.1 1263.4,353.1 1263.9,346.5 1264.4,340.3 1264.9,334.7 1265.4,329.6 1265.9,325.0 1266.4,321.0 1266.9,317.4 1267.4,314.3 1267.9,311.8 1268.4,309.7 1268.9,308.0 1269.4,306.8 1269.9,306.0 1270.4,305.6 1270.9,305.5 1271.4,305.7 1271.9,306.2 1272.4,306.9 1272.9,307.8 1273.4,308.9 1273.9,310.1 1274.4,311.4 1274.9,312.7 1275.4,314.0 1275.9,315.3 1276.4,316.5 1276.9,317.7 1277.4,318.7 1277.9,319.6 1278.4,320.3 1278.9,320.9 1279.4,321.2 1279.9,321.4 1280.4,321.4 1280.9,321.1 1281.4,320.7 1281.9,320.0 1282.4,319.2 1282.9,318.2 1283.4,317.1 1283.9,315.8 1284.4,314.5 1284.9,313.1 1285.4,311.6 1285.9,310.1 1286.4,308.7 1286.9,307.3 1287.4,306.0 1287.9,304.9 1288.4,304.0 1288.9,303.3 1289.4,302.8 1289.9,302.7 1290.4,302.8 1290.9,303.4 1291.4,304.3 1291.9,305.7 1292.4,307.5 1292.9,309.8 1293.4,312.6 1293.9,316.0 1294.4,319.8 1294.9,324.1 1295.4,329.0 1295.9,334.4 1296.4,340.4 1296.9,346.8 1297.4,353.7 1297.9,361.1 1298.4,369.0 1298.9,377.2 1299.4,385.9 1299.9,394.9 1300.4,404.2 1300.9,413.7 1301.4,423.5 1301.9,433.5 1302.4,443.6 1302.9,453.8 1303.2,459.9 1303.7,471.2 1304.2,482.4 1304.7,493.5 1305.2,504.3 1305.7,515.0 1306.2,525.3 1306.7,535.3 1307.2,544.8 1307.7,553.9 1308.2,562.5 1308.7,570.5 1309.2,578.0 1309.7,584.8 1310.2,591.1 1310.7,596.7 1311.2,601.7 1311.7,606.1 1312.2,609.9 1312.7,613.0 1313.2,615.6 1313.7,617.6 1314.2,619.0 1314.7,620.0 1315.2,620.5 1315.7,620.6 1316.2,620.3 1316.7,619.7 1317.2,618.8 1317.7,617.6 1318.2,616.3 1318.7,614.9 1319.2,613.4 1319.7,611.9 1320.2,610.4 1320.7,609.0 1321.2,607.6 1321.7,606.4 1322.2,605.4 1322.7,604.6 1323.2,603.9 1323.7,603.6 1324.2,603.4 1324.7,603.5 1325.2,603.9 1325.7,604.5 1326.2,605.3 1326.7,606.3 1327.2,607.5 1327.7,608.9 1328.2,610.4 1328.7,612.0 1329.2,613.6 1329.7,615.2 1330.2,616.7 1330.7,618.2 1331.2,619.5 1331.7,620.6 1332.2,621.4 1332.7,622.0 1333.2,622.1 1333.7,621.9 1334.2,621.3 1334.7,620.1 1335.2,618.4 1335.7,616.2 1336.2,613.4 1336.7,610.0 1337.2,605.9 1337.7,601.3 1338.2,596.0 1338.7,590.0 1339.2,583.4 1339.7,576.3 1340.2,568.5 1340.7,560.1 1341.2,551.3 1341.7,541.9 1342.2,532.1 1342.7,521.9 1343.2,511.3 1343.7,500.4 1344.2,489.4 1344.7,478.1 1345.2,466.7 1345.5,459.9 1346.0,447.8 1346.5,435.9 1347.0,424.0 1347.5,412.4 1348.0,401.1 1348.5,390.1 1349.0,379.5 1349.5,369.5 1350.0,359.9 1350.5,350.9 1351.0,342.6 1351.5,334.9 1352.0,327.8 1352.5,321.5 1353.0,315.8 1353.5,310.9 1354.0,306.6 1354.5,303.0 1355.0,300.1 1355.5,297.9 1356.0,296.2 1356.5,295.1 1357.0,294.6 1357.5,294.5 1358.0,294.8 1358.5,295.5 1359.0,296.6 1359.5,297.9 1360.0,299.4 1360.5,301.0 1361.0,302.7 1361.5,304.4 1362.0,306.1 1362.5,307.7 1363.0,309.2 1363.5,310.6 1364.0,311.7 1364.5,312.6 1365.0,313.2 1365.5,313.6 1366.0,313.6 1366.5,313.4 1367.0,312.9 1367.5,312.1 1368.0,311.1 1368.5,309.8 1369.0,308.4 1369.5,306.7 1370.0,304.9 1370.5,303.1 1371.0,301.2 1371.5,299.4 1372.0,297.6 1372.5,295.9 1373.0,294.5 1373.5,293.3 1374.0,292.5 1374.5,292.0 1375.0,291.9 1375.5,292.3 1376.0,293.3 1376.5,294.8 1377.0,297.0 1377.5,299.8 1378.0,303.3 1378.5,307.4 1379.0,312.3 1379.5,317.9 1380.0,324.2 1380.5,331.3 1381.0,339.0 1381.5,347.4 1382.0,356.4 1382.5,366.0 1383.0,376.1 1383.5,386.7 1384.0,397.8 1384.5,409.3 1385.0,421.0 1385.5,433.0 1386.0,445.2 1386.5,457.4 1386.6,459.9 1387.1,473.2 1387.6,486.3 1388.1,499.3 1388.6,512.0 1389.1,524.3 1389.6,536.2 1390.1,547.6 1390.6,558.4 1391.1,568.5 1391.6,577.9 1392.1,586.6 1392.6,594.5 1393.1,601.6 1393.6,607.9 1394.1,613.4 1394.6,618.0 1395.1,621.9 1395.6,624.9 1396.1,627.3 1396.6,628.9 1397.1,629.9 1397.6,630.3 1398.1,630.1 1398.6,629.5 1399.1,628.6 1399.6,627.2 1400.1,625.7 1400.6,624.0 1401.1,622.1 1401.6,620.3 1402.1,618.5 1402.6,616.7 1403.1,615.2 1403.6,613.8 1404.1,612.7 1404.6,611.9 1405.1,611.4 1405.6,611.2 1406.1,611.3 1406.6,611.8 1407.1,612.6 1407.6,613.7 1408.1,615.0 1408.6,616.6 1409.1,618.4 1409.6,620.4 1410.1,622.4 1410.6,624.4 1411.1,626.3 1411.6,628.2 1412.1,629.8 1412.6,631.2 1413.1,632.2 1413.6,632.8 1414.1,632.8 1414.6,632.4 1415.1,631.3 1415.6,629.5 1416.1,627.0 1416.6,623.8 1417.1,619.7 1417.6,614.8 1418.1,609.1 1418.6,602.6 1419.1,595.2 1419.6,587.0 1420.1,578.0 1420.6,568.3 1421.1,557.8 1421.6,546.7 1422.1,535.1 1422.6,522.9 1423.1,510.3 1423.6,497.3 1424.1,484.1 1424.6,470.7 1425.0,459.9 1425.5,446.5 1426.0,433.1 1426.5,420.0 1427.0,407.1 1427.5,394.6 1428.0,382.6 1428.5,371.1 1429.0,360.2 1429.5,350.0 1430.0,340.5 1430.5,331.7 1431.0,323.8 1431.5,316.6 1432.0,310.3 1432.5,304.8 1433.0,300.2 1433.5,296.3 1434.0,293.3 1434.5,291.0 1435.0,289.3 1435.5,288.3 1436.0,287.9 1436.5,288.0 1437.0,288.6 1437.5,289.5 1438.0,290.7 1438.5,292.1 1439.0,293.7 1439.5,295.4 1440.0,297.1 1440.5,298.7 1441.0,300.1 1441.5,301.5 1442.0,302.5 1442.5,303.4 1443.0,303.9 1443.5,304.1 1444.0,304.0 1444.5,303.6 1445.0,302.9 1445.5,301.9 1446.0,300.6 1446.5,299.1 1447.0,297.4 1447.5,295.6 1448.0,293.7 1448.5,291.8 1449.0,290.0 1449.5,288.3 1450.0,286.8 1450.5,285.6 1451.0,284.7 1451.5,284.3 1452.0,284.5 1452.5,285.2 1453.0,286.5 1453.5,288.5 1454.0,291.3 1454.5,294.9 1455.0,299.3 1455.5,304.6 1456.0,310.7 1456.5,317.6 1457.0,325.4 1457.5,334.0 1458.0,343.5 1458.5,353.6 1459.0,364.5 1459.5,376.0 1460.0,388.2 1460.5,400.8 1461.0,413.8 1461.5,427.1 1462.0,440.7 1462.5,454.4 1462.7,459.9 1463.2,474.6 1463.7,489.2 1464.2,503.6 1464.7,517.6 1465.2,531.2 1465.7,544.2 1466.2,556.5 1466.7,568.1 1467.2,578.9 1467.7,588.9 1468.2,597.9 1468.7,605.9 1469.2,613.0 1469.7,619.1 1470.2,624.2 1470.7,628.4 1471.2,631.7 1471.7,634.1 1472.2,635.7 1472.7,636.5 1473.2,636.7 1473.7,636.3 1474.2,635.4 1474.7,634.0 1475.2,632.4 1475.7,630.6 1476.2,628.6 1476.7,626.6 1477.2,624.7 1477.7,622.9 1478.2,621.3 1478.7,620.0 1479.2,618.9 1479.7,618.2 1480.2,617.9 1480.7,618.0 1481.2,618.5 1481.7,619.3 1482.2,620.6 1482.7,622.1 1483.2,623.9 1483.7,625.9 1484.2,628.1 1484.7,630.3 1485.2,632.5 1485.7,634.6 1486.2,636.5 1486.7,638.2 1487.2,639.4 1487.7,640.1 1488.2,640.3 1488.7,639.8 1489.2,638.5 1489.7,636.4 1490.2,633.5 1490.7,629.6 1491.2,624.8 1491.7,619.0 1492.2,612.2 1492.7,604.3 1493.2,595.5 1493.7,585.8 1494.2,575.1 1494.7,563.5 1495.2,551.2 1495.7,538.2 1496.2,524.5 1496.7,510.4 1497.2,495.8 1497.7,481.0 1498.2,465.9 1498.4,459.9 1498.9,444.5 1499.4,429.3 1499.9,414.3 1500.4,399.7 1500.9,385.6 1501.4,372.1 1501.9,359.4 1502.4,347.4 1502.9,336.3 1503.4,326.1 1503.9,316.9 1504.4,308.7 1504.9,301.6 1505.4,295.6 1505.9,290.5 1506.4,286.5 1506.9,283.4 1507.4,281.3 1507.9,280.0 1508.4,279.5 1508.9,279.7 1509.4,280.4 1509.9,281.7 1510.4,283.4 1510.9,285.4 1511.4,287.5 1511.9,289.8 1512.4,292.1 1512.9,294.2 1513.4,296.2 1513.9,298.0 1514.4,299.5 1514.9,300.6 1515.4,301.3 1515.9,301.6 1516.4,301.5 1516.9,300.9 1517.4,300.0 1517.9,298.6 1518.4,297.0 1518.9,295.1 1519.4,292.9 1519.9,290.7 1520.4,288.4 1520.9,286.2 1521.4,284.1 1521.9,282.3 1522.4,280.9 1522.9,279.9 1523.4,279.5 1523.9,279.7 1524.4,280.7 1524.9,282.5 1525.4,285.2 1525.9,288.8 1526.4,293.4 1526.9,299.1 1527.4,305.8 1527.9,313.5 1528.4,322.3 1528.9,332.1 1529.4,342.8 1529.9,354.5 1530.4,366.9 1530.9,380.2 1531.4,394.0 1531.9,408.4 1532.4,423.3 1532.9,438.4 1533.4,453.7 1533.6,459.9 1534.1,476.4 1534.6,492.7 1535.1,508.8 1535.6,524.4 1536.1,539.4 1536.6,553.6 1537.1,567.1 1537.6,579.6 1538.1,591.2 1538.6,601.6 1539.1,610.9 1539.6,619.0 1540.1,626.0 1540.6,631.8 1541.1,636.5 1541.6,640.1 1542.1,642.7 1542.6,644.3 1543.1,645.0 1543.6,645.0 1544.1,644.3 1544.6,643.1 1545.1,641.4 1545.6,639.4 1546.1,637.3 1546.6,635.0 1547.1,632.9 1547.6,630.8 1548.1,629.0 1548.6,627.5 1549.1,626.3 1549.6,625.5 1550.1,625.2 1550.6,625.4 1551.1,625.9 1551.6,626.9 1552.1,628.3 1552.6,630.0 1553.1,632.0 1553.6,634.2 1554.1,636.4 1554.6,638.6 1555.1,640.6 1555.6,642.4 1556.1,643.9 1556.6,644.8 1557.1,645.1 1557.6,644.7 1558.1,643.4 1558.6,641.3 1559.1,638.1 1559.6,633.9 1560.1,628.5 1560.6,622.0 1561.1,614.3 1561.6,605.5 1562.1,595.5 1562.6,584.4 1563.1,572.2 1563.6,559.1 1564.1,545.2 1564.6,530.4 1565.1,515.1 1565.6,499.2 1566.1,483.0 1566.6,466.5 1566.8,459.9 1567.3,443.1 1567.8,426.5 1568.3,410.2 1568.8,394.3 1569.3,379.1 1569.8,364.6 1570.3,351.0 1570.8,338.4 1571.3,326.8 1571.8,316.4 1572.3,307.1 1572.8,299.1 1573.3,292.2 1573.8,286.6 1574.3,282.1 1574.8,278.8 1575.3,276.5 1575.8,275.1 1576.3,274.7 1576.8,275.0 1577.3,275.9 1577.8,277.3 1578.3,279.2 1578.8,281.3 1579.3,283.5 1579.8,285.7 1580.3,287.9 1580.8,289.9 1581.3,291.6 1581.8,292.9 1582.3,293.8 1582.8,294.3 1583.3,294.3 1583.8,293.8 1584.3,292.9 1584.8,291.5 1585.3,289.7 1585.8,287.7 1586.3,285.4 1586.8,283.0 1587.3,280.6 1587.8,278.3 1588.3,276.2 1588.8,274.5 1589.3,273.3 1589.8,272.7 1590.3,272.8 1590.8,273.7 1591.3,275.6 1591.8,278.5 1592.3,282.6 1592.8,287.8 1593.3,294.2 1593.8,301.9 1594.3,310.7 1594.8,320.8 1595.3,332.1 1595.8,344.5 1596.3,357.8 1596.8,372.1 1597.3,387.3 1597.8,403.1 1598.3,419.4 1598.8,436.1 1599.3,453.1 1599.5,459.9 1600.0,477.8 1600.5,495.4 1601.0,512.8 1601.5,529.5 1602.0,545.6 1602.5,560.7 1603.0,574.9 1603.5,588.0 1604.0,599.8 1604.5,610.4 1605.0,619.7 1605.5,627.6 1606.0,634.1 1606.5,639.3 1607.0,643.3 1607.5,646.1 1608.0,647.8 1608.5,648.5 1609.0,648.3 1609.5,647.4 1610.0,645.9 1610.5,643.9 1611.0,641.7 1611.5,639.3 1612.0,636.9 1612.5,634.6 1613.0,632.5 1613.5,630.7 1614.0,629.4 1614.5,628.6 1615.0,628.2 1615.5,628.4 1616.0,629.1 1616.5,630.3 1617.0,632.0 1617.5,634.0 1618.0,636.3 1618.5,638.8 1619.0,641.3 1619.5,643.8 1620.0,646.1 1620.5,647.9 1621.0,649.3 1621.5,650.0 1622.0,649.9 1622.5,648.8 1623.0,646.7 1623.5,643.5 1624.0,639.0 1624.5,633.2 1625.0,626.0 1625.5,617.5 1626.0,607.6 1626.5,596.5 1627.0,584.0 1627.5,570.3 1628.0,555.6 1628.5,539.9 1629.0,523.4 1629.5,506.3 1630.0,488.7 1630.5,470.7 1630.8,459.9 1631.3,441.6 1631.8,423.5 1632.3,405.7 1632.8,388.6 1633.3,372.2 1633.8,356.7 1634.3,342.3 1634.8,329.0 1635.3,317.0 1635.8,306.3 1636.3,297.0 1636.8,289.1 1637.3,282.6 1637.8,277.5 1638.3,273.6 1638.8,271.0 1639.3,269.5 1639.8,269.0 1640.3,269.4 1640.8,270.5 1641.3,272.2 1641.8,274.3 1642.3,276.6 1642.8,279.1 1643.3,281.5 1643.8,283.8 1644.3,285.8 1644.8,287.4 1645.3,288.5 1645.8,289.2 1646.3,289.3 1646.8,288.9 1647.3,287.9 1647.8,286.4 1648.3,284.5 1648.8,282.3 1649.3,279.8 1649.8,277.2 1650.3,274.6 1650.8,272.1 1651.3,270.0 1651.8,268.3 1652.3,267.3 1652.8,267.0 1653.3,267.6 1653.8,269.3 1654.3,272.2 1654.8,276.3 1655.3,281.8 1655.8,288.6 1656.3,296.9 1656.8,306.5 1657.3,317.6 1657.8,330.0 1658.3,343.7 1658.8,358.5 1659.3,374.4 1659.8,391.2 1660.3,408.7 1660.8,426.7 1661.3,445.1 1661.7,459.9 1662.2,478.5 1662.7,497.0 1663.2,515.0 1663.7,532.5 1664.2,549.1 1664.7,564.9 1665.2,579.6 1665.7,593.1 1666.2,605.3 1666.7,616.1 1667.2,625.6 1667.7,633.6 1668.2,640.3 1668.7,645.5 1669.2,649.5 1669.7,652.2 1670.2,653.8 1670.7,654.5 1671.2,654.3 1671.7,653.4 1672.2,651.9 1672.7,650.1 1673.2,648.0 1673.7,645.8 1674.2,643.7 1674.7,641.7 1675.2,640.0 1675.7,638.7 1676.2,637.9 1676.7,637.5 1677.2,637.6 1677.7,638.3 1678.2,639.4 1678.7,640.9 1679.2,642.7 1679.7,644.8 1680.2,647.0 1680.7,649.2 1681.2,651.3 1681.7,653.0 1682.2,654.3 1682.7,655.0 1683.2,654.9 1683.7,653.8 1684.2,651.8 1684.7,648.6 1685.2,644.1 1685.7,638.3 1686.2,631.1 1686.7,622.5 1687.2,612.4 1687.7,601.0 1688.2,588.2 1688.7,574.2 1689.2,559.0 1689.7,542.8 1690.2,525.8 1690.7,508.0 1691.2,489.7 1691.7,471.1 1692.0,459.9 1692.5,440.7 1693.0,421.8 1693.5,403.3 1694.0,385.4 1694.5,368.3 1695.0,352.3 1695.5,337.3 1696.0,323.7 1696.5,311.4 1697.0,300.6 1697.5,291.2 1698.0,283.3 1698.5,276.9 1699.0,272.0 1699.5,268.4 1700.0,266.0 1700.5,264.8 1701.0,264.6 1701.5,265.3 1702.0,266.6 1702.5,268.5 1703.0,270.7 1703.5,273.1 1704.0,275.5 1704.5,277.8 1705.0,279.8 1705.5,281.5 1706.0,282.7 1706.5,283.4 1707.0,283.6 1707.5,283.1 1708.0,282.1 1708.5,280.6 1709.0,278.7 1709.5,276.3 1710.0,273.8 1710.5,271.1 1711.0,268.5 1711.5,266.1 1712.0,264.1 1712.5,262.6 1713.0,261.9 1713.5,262.0 1714.0,263.1 1714.5,265.5 1715.0,269.1 1715.5,274.1 1716.0,280.5 1716.5,288.5 1717.0,298.0 1717.5,309.0 1718.0,321.5 1718.5,335.4 1719.0,350.6 1719.5,366.9 1720.0,384.2 1720.5,402.4 1721.0,421.2 1721.5,440.4 1722.0,459.9 1722.5,479.7 1723.0,499.3 1723.5,518.4 1724.0,536.8 1724.5,554.3 1725.0,570.8 1725.5,586.1 1726.0,600.0 1726.5,612.4 1727.0,623.3 1727.5,632.6 1728.0,640.4 1728.5,646.6 1729.0,651.3 1729.5,654.7 1730.0,656.8 1730.5,657.7 1731.0,657.7 1731.5,656.8 1732.0,655.3 1732.5,653.3 1733.0,651.1 1733.5,648.8 1734.0,646.5 1734.5,644.4 1735.0,642.7 1735.5,641.3 1736.0,640.5 1736.5,640.2 1737.0,640.5 1737.5,641.3 1738.0,642.7 1738.5,644.4 1739.0,646.5 1739.5,648.8 1740.0,651.1 1740.5,653.3 1741.0,655.3 1741.5,656.8 1742.0,657.7 1742.5,657.7 1743.0,656.8 1743.5,654.7 1744.0,651.3 1744.5,646.6 1745.0,640.4 1745.5,632.6 1746.0,623.3 1746.5,612.4 1747.0,600.0 1747.5,586.1 1748.0,570.8 1748.5,554.3 1749.0,536.8 1749.5,518.4 1750.0,499.3 1750.5,479.7 1751.0,459.9" stroke="#0000ff"/><path d="M64.0,563.8 71.0,558.5 77.9,557.5 84.9,554.0 91.9,557.5 98.8,553.3 107.6,552.3 112.8,556.8 119.7,565.5 125.0,572.5 131.9,584.7 138.9,577.7 145.9,567.2 152.9,556.8 158.1,549.1 163.3,542.9 166.8,540.1 170.3,535.9 173.8,523.7 179.0,511.5 184.2,494.1 189.4,478.4 194.7,467.9 199.9,462.0 205.1,461.0 206.9,457.3 212.1,452.1 217.3,448.6 224.3,443.4 229.5,427.7 233.0,410.3 236.5,389.4 240.0,368.5 244.5,333.6 248.7,330.1 253.9,321.4 259.1,330.1 266.1,340.6 273.1,352.8 278.3,356.3 283.5,352.8 290.5,347.6 295.7,337.1 302.7,321.4 307.2,312.7 311.4,319.7 318.4,330.1 325.3,349.3 332.3,358.0 337.5,370.2 342.7,389.4 348.0,410.3 351.5,429.4 354.9,441.6 360.2,452.1 364.0,452.8 364.0,453.8 369.2,459.1 374.5,462.7 381.4,471.4 388.4,481.9 393.6,497.6 397.1,515.0 400.6,539.4 404.1,567.2 407.6,591.6 411.0,609.1 416.3,611.8 419.7,605.6 425.0,596.9 428.5,588.2 433.7,581.2 440.7,574.2 445.9,581.2 451.1,591.6 456.3,605.6 463.3,619.5 468.5,614.3 473.8,598.6 479.0,588.2 484.2,567.2 489.4,553.3 492.9,532.4 496.4,511.5 499.9,494.1 503.4,478.4 506.9,467.9 512.1,462.7 517.3,461.0 522.5,455.6 526.0,452.1 531.2,445.1 534.7,434.7 538.2,417.2 541.7,389.4 545.2,354.5 548.7,319.7 552.2,302.3 557.4,294.6 562.6,298.8 566.1,305.7 569.6,316.2 574.8,328.4 580.0,335.4 583.5,330.1 588.7,319.7 594.0,302.3 598.1,287.6 602.7,291.1 607.9,305.7 613.1,319.7 616.6,340.6 620.1,358.0 623.6,382.4 627.1,406.8 630.6,431.2 634.0,446.9 639.3,457.3 642.7,461.0 648.0,469.7 653.2,480.1 658.4,497.6 661.9,518.5 664.0,546.3 664.0,546.3 667.5,581.2 671.0,616.0 674.5,636.9 677.9,640.4 683.2,632.8 686.6,619.5 690.1,607.3 695.4,595.8 698.8,598.6 702.3,612.5 707.6,626.5 712.8,640.4 716.3,635.2 719.7,619.5 723.2,598.6 726.7,574.2 730.2,549.8 733.7,515.0 737.2,490.6 740.7,466.2 744.1,461.0 751.1,454.7 756.3,439.1 759.8,414.7 763.3,379.8 766.8,334.5 770.3,303.2 773.8,280.5 777.2,277.0 782.5,280.5 786.0,292.7 791.2,306.7 794.7,309.4 798.1,296.2 801.6,278.8 805.1,273.6 810.3,285.7 813.8,306.7 817.3,331.0 820.8,369.4 824.3,404.2 827.8,439.1 834.7,466.2 840.0,473.2 843.4,490.6 846.9,522.0 850.4,556.8 853.9,595.1 857.4,636.9 860.9,650.9 864.3,647.4 867.8,630.0 871.3,619.5 874.8,616.7 878.3,630.0 881.8,643.9 884.2,649.1 887.0,643.9 890.5,619.5 894.0,584.7 897.4,546.3 900.9,504.5 904.4,469.7 906.0,459.9 906.5,459.3 907.0,458.4 907.5,457.4 908.0,456.2 908.5,454.8 909.0,453.3 909.5,451.7 910.0,449.9 910.5,448.1 911.0,446.2 911.5,444.2 912.0,442.2 912.5,440.0 913.0,437.4 913.5,434.6 914.0,431.5 914.5,428.3 915.0,424.8 915.5,421.2 916.0,417.6 916.5,413.7 917.0,409.6 917.5,405.2 918.0,400.5 918.5,395.6 919.0,390.4 919.5,384.9 920.0,379.0 920.5,372.3 921.0,364.9 921.5,357.1 922.0,349.2 922.5,341.5 923.0,334.2 923.5,327.5 924.0,321.1 924.5,314.6 925.0,308.3 925.5,302.2 926.0,296.5 926.5,291.5 927.0,287.2 927.5,283.7 928.0,280.6 928.5,277.9 929.0,275.3 929.5,273.1 930.0,271.2 930.5,269.6 931.0,268.2 931.5,266.8 932.0,265.5 932.5,264.4 933.0,263.7 933.5,263.3 934.0,263.4 934.5,264.1 935.0,265.2 935.5,266.7 936.0,268.5 936.5,270.5 937.0,272.6 937.5,274.8 938.0,277.0 938.5,279.1 939.0,281.0 939.5,282.7 940.0,284.0 940.5,285.3 941.0,286.5 941.5,287.8 942.0,289.0 942.5,290.2 943.0,291.4 943.5,292.4 944.0,293.3 944.5,294.1 945.0,294.6 945.5,295.0 946.0,295.1 946.5,294.7 947.0,293.6 947.5,292.0 948.0,289.9 948.5,287.6 949.0,285.0 949.5,282.3 950.0,279.7 950.5,277.1 951.0,274.8 951.5,272.8 952.0,271.3 952.5,270.3 953.0,270.0 953.5,270.4 954.0,271.2 954.5,272.6 955.0,274.3 955.5,276.3 956.0,278.6 956.5,281.2 957.0,283.8 957.5,286.6 958.0,289.3 958.5,292.5 959.0,296.4 959.5,300.8 960.0,305.6 960.5,310.7 961.0,316.1 961.5,322.2 962.0,328.8 962.5,335.6 963.0,342.4 963.5,348.9 964.0,355.3 964.5,361.7 965.0,368.1 965.5,374.5 966.0,380.9 966.5,387.4 967.0,393.8 967.5,400.3 968.0,406.7 968.5,413.0 969.0,419.3 969.5,425.7 970.0,431.9 970.5,437.9 971.0,443.5 971.5,448.9 972.0,454.0 972.5,458.9 972.6,459.9 973.1,460.6 973.6,461.6 974.1,462.7 974.6,464.1 975.1,465.7 975.6,467.4 976.1,469.3 976.6,471.3 977.1,473.4 977.6,475.6 978.1,477.9 978.6,480.3 979.1,483.0 979.6,486.1 980.1,489.5 980.6,493.2 981.1,497.1 981.6,501.1 982.1,505.2 982.6,509.6 983.1,514.3 983.6,519.3 984.1,524.7 984.6,530.3 985.1,536.3 985.6,542.7 986.1,550.0 986.6,558.1 987.1,566.8 987.6,575.5 988.1,584.2 988.6,592.3 989.1,599.6 989.6,606.8 990.1,614.0 990.6,621.0 991.1,627.6 991.6,633.7 992.1,638.9 992.6,643.1 993.1,646.7 993.6,649.8 994.1,652.7 994.6,655.2 995.1,657.4 995.6,659.2 996.1,660.8 996.6,662.3 997.1,663.7 997.6,664.8 998.1,665.6 998.6,665.8 999.1,665.4 999.6,664.5 1000.1,663.2 1000.6,661.6 1001.1,659.7 1001.6,657.6 1002.1,655.4 1002.6,653.3 1003.1,651.2 1003.6,649.3 1004.1,647.7 1004.6,646.4 1005.1,645.2 1005.6,644.0 1006.1,642.8 1006.6,641.5 1007.1,640.4 1007.6,639.3 1008.1,638.4 1008.6,637.6 1009.1,637.0 1009.6,636.6 1010.1,636.5 1010.6,636.8 1011.1,637.8 1011.6,639.2 1012.1,641.1 1012.6,643.2 1013.1,645.5 1013.6,647.9 1014.1,650.2 1014.6,652.4 1015.1,654.3 1015.6,655.8 1016.1,656.8 1016.6,657.3 1017.1,657.0 1017.6,656.1 1018.1,654.7 1018.6,652.8 1019.1,650.5 1019.6,647.9 1020.1,645.1 1020.6,642.1 1021.1,639.1 1021.6,635.9 1022.1,632.0 1022.6,627.3 1023.1,622.2 1023.6,616.7 1024.1,610.9 1024.6,604.2 1025.1,597.0 1025.6,589.4 1026.1,581.9 1026.6,574.8 1027.1,567.7 1027.6,560.6 1028.1,553.5 1028.6,546.3 1029.1,539.2 1029.6,532.1 1030.1,524.9 1030.6,517.8 1031.1,510.8 1031.6,503.8 1032.1,496.7 1032.6,489.8 1033.1,483.2 1033.6,477.0 1034.1,471.0 1034.6,465.3 1035.1,459.9 1035.6,459.1 1036.1,458.0 1036.6,456.6 1037.1,455.0 1037.6,453.2 1038.1,451.2 1038.6,449.0 1039.1,446.7 1039.6,444.3 1040.1,441.8 1040.6,439.1 1041.1,436.0 1041.6,432.4 1042.1,428.5 1042.6,424.4 1043.1,420.0 1043.6,415.4 1044.1,410.6 1044.6,405.4 1045.1,399.9 1045.6,393.9 1046.1,387.6 1046.6,380.8 1047.1,373.4 1047.6,364.8 1048.1,355.4 1048.6,345.7 1049.1,336.0 1049.6,327.0 1050.1,318.8 1050.6,310.9 1051.1,302.9 1051.6,295.2 1052.1,288.2 1052.6,281.9 1053.1,276.8 1053.6,272.7 1054.1,269.1 1054.6,266.0 1055.1,263.2 1055.6,260.8 1056.1,258.9 1056.6,257.2 1057.1,255.5 1057.6,254.1 1058.1,253.2 1058.6,252.8 1059.1,253.1 1059.6,254.0 1060.1,255.5 1060.6,257.4 1061.1,259.6 1061.6,261.9 1062.1,264.4 1062.6,266.7 1063.1,268.9 1063.6,270.7 1064.1,272.2 1064.6,273.5 1065.1,274.9 1065.6,276.3 1066.1,277.6 1066.6,278.9 1067.1,280.0 1067.6,280.9 1068.1,281.7 1068.6,282.1 1069.1,282.3 1069.6,282.0 1070.1,280.9 1070.6,279.4 1071.1,277.4 1071.6,275.2 1072.1,272.8 1072.6,270.4 1073.1,268.2 1073.6,266.2 1074.1,264.6 1074.6,263.6 1075.1,263.3 1075.6,263.7 1076.1,264.9 1076.6,266.7 1077.1,269.1 1077.6,271.8 1078.1,274.8 1078.6,278.1 1079.1,281.4 1079.6,284.9 1080.1,289.4 1080.6,294.6 1081.1,300.5 1081.6,306.6 1082.1,313.5 1082.6,321.3 1083.1,329.5 1083.6,337.8 1084.1,345.6 1084.6,353.4 1085.1,361.2 1085.6,369.0 1086.1,376.9 1086.6,384.7 1087.1,392.5 1087.6,400.4 1088.1,408.1 1088.6,415.8 1089.1,423.5 1089.6,431.1 1090.1,438.3 1090.6,445.0 1091.1,451.5 1091.6,457.6 1091.8,459.9 1092.3,460.8 1092.8,462.0 1093.3,463.5 1093.8,465.3 1094.3,467.3 1094.8,469.5 1095.3,471.9 1095.8,474.5 1096.3,477.1 1096.8,479.8 1097.3,483.0 1097.8,486.6 1098.3,490.7 1098.8,495.1 1099.3,499.8 1099.8,504.7 1100.3,509.8 1100.8,515.3 1101.3,521.3 1101.8,527.7 1102.3,534.6 1102.8,541.9 1103.3,550.1 1103.8,559.6 1104.3,569.9 1104.8,580.4 1105.3,590.6 1105.8,599.9 1106.3,608.5 1106.8,617.1 1107.3,625.5 1107.8,633.4 1108.3,640.5 1108.8,646.3 1109.3,650.9 1109.8,654.8 1110.3,658.3 1110.8,661.3 1111.3,663.9 1111.8,665.9 1112.3,667.8 1112.8,669.5 1113.3,670.9 1113.8,671.8 1114.3,672.0 1114.8,671.5 1115.3,670.3 1115.8,668.6 1116.3,666.6 1116.8,664.3 1117.3,661.9 1117.8,659.6 1118.3,657.4 1118.8,655.5 1119.3,653.9 1119.8,652.6 1120.3,651.3 1120.8,649.9 1121.3,648.6 1121.8,647.4 1122.3,646.3 1122.8,645.4 1123.3,644.7 1123.8,644.3 1124.3,644.3 1124.8,644.9 1125.3,646.0 1125.8,647.7 1126.3,649.6 1126.8,651.8 1127.3,654.0 1127.8,656.0 1128.3,657.9 1128.8,659.4 1129.3,660.4 1129.8,660.8 1130.3,660.3 1130.8,659.0 1131.3,657.0 1131.8,654.5 1132.3,651.5 1132.8,648.1 1133.3,644.6 1133.8,641.0 1134.3,636.9 1134.8,631.7 1135.3,625.7 1135.8,619.2 1136.3,612.3 1136.8,604.2 1137.3,595.4 1137.8,586.5 1138.3,578.0 1138.8,569.6 1139.3,561.2 1139.8,552.8 1140.3,544.4 1140.8,536.0 1141.3,527.6 1141.8,519.2 1142.3,510.8 1142.8,502.6 1143.3,494.3 1143.8,486.3 1144.3,478.8 1144.8,471.7 1145.3,465.0 1145.7,459.9 1146.2,459.0 1146.7,457.6 1147.2,456.0 1147.7,454.0 1148.2,451.8 1148.7,449.4 1149.2,446.7 1149.7,444.0 1150.2,441.1 1150.7,438.0 1151.2,434.3 1151.7,430.1 1152.2,425.5 1152.7,420.5 1153.2,415.3 1153.7,409.9 1154.2,404.0 1154.7,397.6 1155.2,390.7 1155.7,383.3 1156.2,375.4 1156.7,366.2 1157.2,355.7 1157.7,344.6 1158.2,333.5 1158.7,323.0 1159.2,313.6 1159.7,304.4 1160.2,295.3 1160.7,286.7 1161.2,279.0 1161.7,272.5 1162.2,267.6 1162.7,263.4 1163.2,259.7 1163.7,256.5 1164.2,253.9 1164.7,251.8 1165.2,249.8 1165.7,248.0 1166.2,246.7 1166.7,246.0 1167.2,246.2 1167.7,247.0 1168.2,248.4 1168.7,250.2 1169.2,252.2 1169.7,254.4 1170.2,256.6 1170.7,258.6 1171.2,260.4 1171.7,261.7 1172.2,262.9 1172.7,264.2 1173.2,265.4 1173.7,266.6 1174.2,267.7 1174.7,268.6 1175.2,269.4 1175.7,269.9 1176.2,270.0 1176.7,269.8 1177.2,269.2 1177.7,268.2 1178.2,266.9 1178.7,265.5 1179.2,264.1 1179.7,262.7 1180.2,261.5 1180.7,260.5 1181.2,259.9 1181.7,259.8 1182.2,260.5 1182.7,262.2 1183.2,264.5 1183.7,267.5 1184.2,270.8 1184.7,274.5 1185.2,278.3 1185.7,282.3 1186.2,287.5 1186.7,293.7 1187.2,300.5 1187.7,307.7 1188.2,316.2 1188.7,325.5 1189.2,334.9 1189.7,343.8 1190.2,352.7 1190.7,361.5 1191.2,370.4 1191.7,379.2 1192.2,388.1 1192.7,397.0 1193.2,405.8 1193.7,414.6 1194.2,423.3 1194.7,431.9 1195.2,439.9 1195.7,447.4 1196.2,454.5 1196.6,459.9 1197.1,460.9 1197.6,462.3 1198.1,464.2 1198.6,466.3 1199.1,468.7 1199.6,471.4 1200.1,474.2 1200.6,477.2 1201.1,480.3 1201.6,483.9 1202.1,488.2 1202.6,492.9 1203.1,498.0 1203.6,503.5 1204.1,509.2 1204.6,515.3 1205.1,522.0 1205.6,529.3 1206.1,537.1 1206.6,545.5 1207.1,555.2 1207.6,566.3 1208.1,578.2 1208.6,590.1 1209.1,601.2 1209.6,611.1 1210.1,620.9 1210.6,630.5 1211.1,639.5 1211.6,647.4 1212.1,653.6 1212.6,658.5 1213.1,662.7 1213.6,666.4 1214.1,669.5 1214.6,671.9 1215.1,674.0 1215.6,676.0 1216.1,677.6 1216.6,678.5 1217.1,678.4 1217.6,677.5 1218.1,676.0 1218.6,674.0 1219.1,671.7 1219.6,669.3 1220.1,666.8 1220.6,664.6 1221.1,662.7 1221.6,661.2 1222.1,659.8 1222.6,658.4 1223.1,657.0 1223.6,655.7 1224.1,654.5 1224.6,653.6 1225.1,652.9 1225.6,652.6 1226.1,652.6 1226.6,653.0 1227.1,653.6 1227.6,654.5 1228.1,655.5 1228.6,656.5 1229.1,657.5 1229.6,658.3 1230.1,659.0 1230.6,659.4 1231.1,659.5 1231.6,658.6 1232.1,656.7 1232.6,654.1 1233.1,650.9 1233.6,647.3 1234.1,643.4 1234.6,639.5 1235.1,634.7 1235.6,628.7 1236.1,621.9 1236.6,614.6 1237.1,606.2 1237.6,596.8 1238.1,586.9 1238.6,577.5 1239.1,568.3 1239.6,559.1 1240.1,549.8 1240.6,540.6 1241.1,531.3 1241.6,522.1 1242.1,512.9 1242.6,503.8 1243.1,494.7 1243.6,485.8 1244.1,477.7 1244.6,469.9 1245.1,462.7 1245.3,459.9 1245.8,458.8 1246.3,457.3 1246.8,455.3 1247.3,453.0 1247.8,450.4 1248.3,447.5 1248.8,444.4 1249.3,441.2 1249.8,437.8 1250.3,433.6 1250.8,428.7 1251.3,423.5 1251.8,417.8 1252.3,411.9 1252.8,405.4 1253.3,398.4 1253.8,390.8 1254.3,382.5 1254.8,373.5 1255.3,362.9 1255.8,350.9 1256.3,338.3 1256.8,326.1 1257.3,315.1 1257.8,304.8 1258.3,294.5 1258.8,284.8 1259.3,276.2 1259.8,269.3 1260.3,264.0 1260.8,259.5 1261.3,255.7 1261.8,252.5 1262.3,250.0 1262.8,247.8 1263.3,245.8 1263.8,244.3 1264.3,243.7 1264.8,244.1 1265.3,245.2 1265.8,246.8 1266.3,248.7 1266.8,250.8 1267.3,253.0 1267.8,255.0 1268.3,256.8 1268.8,258.1 1269.3,259.3 1269.8,260.5 1270.3,261.8 1270.8,262.9 1271.3,263.9 1271.8,264.6 1272.3,265.1 1272.8,265.3 1273.3,265.1 1273.8,264.7 1274.3,264.2 1274.8,263.5 1275.3,262.7 1275.8,262.0 1276.3,261.4 1276.8,260.9 1277.3,260.6 1277.8,260.6 1278.3,261.8 1278.8,263.9 1279.3,266.9 1279.8,270.4 1280.3,274.4 1280.8,278.6 1281.3,283.0 1281.8,288.9 1282.3,295.9 1282.8,303.5 1283.3,312.1 1283.8,322.0 1284.3,332.4 1284.8,342.5 1285.3,352.3 1285.8,362.1 1286.3,371.9 1286.8,381.7 1287.3,391.5 1287.8,401.3 1288.3,411.1 1288.8,420.7 1289.3,430.3 1289.8,439.2 1290.3,447.6 1290.8,455.4 1291.1,459.9 1291.6,461.1 1292.1,462.8 1292.6,465.0 1293.1,467.6 1293.6,470.6 1294.1,473.8 1294.6,477.2 1295.1,480.7 1295.6,484.9 1296.1,489.9 1296.6,495.5 1297.1,501.5 1297.6,507.9 1298.1,514.8 1298.6,522.4 1299.1,530.7 1299.6,539.7 1300.1,549.5 1300.6,561.3 1301.1,574.6 1301.6,588.3 1302.1,601.3 1302.6,612.8 1303.1,624.0 1303.6,635.0 1304.1,645.0 1304.6,653.4 1305.1,659.6 1305.6,664.7 1306.1,669.1 1306.6,672.7 1307.1,675.5 1307.6,677.9 1308.1,680.1 1308.6,681.6 1309.1,682.1 1309.6,681.5 1310.1,680.3 1310.6,678.7 1311.1,676.6 1311.6,674.5 1312.1,672.4 1312.6,670.6 1313.1,669.1 1313.6,667.9 1314.1,666.7 1314.6,665.5 1315.1,664.4 1315.6,663.4 1316.1,662.6 1316.6,662.2 1317.1,662.0 1317.6,662.2 1318.1,662.7 1318.6,663.3 1319.1,664.0 1319.6,664.7 1320.1,665.4 1320.6,666.0 1321.1,666.4 1321.6,666.5 1322.1,665.7 1322.6,663.6 1323.1,660.5 1323.6,656.6 1324.1,652.3 1324.6,647.7 1325.1,642.7 1325.6,636.1 1326.1,628.3 1326.6,619.7 1327.1,609.8 1327.6,598.6 1328.1,587.2 1328.6,576.4 1329.1,565.6 1329.6,554.9 1330.1,544.1 1330.6,533.3 1331.1,522.5 1331.6,511.8 1332.1,501.2 1332.6,490.6 1333.1,480.8 1333.6,471.7 1334.1,463.1 1334.3,459.9 1334.8,458.6 1335.3,456.8 1335.8,454.4 1336.3,451.6 1336.8,448.4 1337.3,444.9 1337.8,441.3 1338.3,437.4 1338.8,432.6 1339.3,427.0 1339.8,420.9 1340.3,414.2 1340.8,407.3 1341.3,399.5 1341.8,391.1 1342.3,381.8 1342.8,371.7 1343.3,359.8 1343.8,346.0 1344.3,331.4 1344.8,317.4 1345.3,305.0 1345.8,293.1 1346.3,281.4 1346.8,270.8 1347.3,262.0 1347.8,255.6 1348.3,250.2 1348.8,245.7 1349.3,242.1 1349.8,239.3 1350.3,236.7 1350.8,234.6 1351.3,233.4 1351.8,233.4 1352.3,234.5 1352.8,236.4 1353.3,238.9 1353.8,241.7 1354.3,244.5 1354.8,247.0 1355.3,249.1 1355.8,250.7 1356.3,252.3 1356.8,253.9 1357.3,255.4 1357.8,256.7 1358.3,257.7 1358.8,258.4 1359.3,258.5 1359.8,258.4 1360.3,258.3 1360.8,258.1 1361.3,257.8 1361.8,257.6 1362.3,257.3 1362.8,257.1 1363.3,257.0 1363.8,257.2 1364.3,258.7 1364.8,261.3 1365.3,264.9 1365.8,269.2 1366.3,273.8 1366.8,278.6 1367.3,284.8 1367.8,292.6 1368.3,301.1 1368.8,310.9 1369.3,322.3 1369.8,333.9 1370.3,345.0 1370.8,356.0 1371.3,367.0 1371.8,378.0 1372.3,389.1 1372.8,400.1 1373.3,411.0 1373.8,421.9 1374.3,432.5 1374.8,442.3 1375.3,451.4 1375.8,459.9 1376.3,461.3 1376.8,463.3 1377.3,466.0 1377.8,469.1 1378.3,472.6 1378.8,476.4 1379.3,480.3 1379.8,485.0 1380.3,490.6 1380.8,497.0 1381.3,503.9 1381.8,511.3 1382.3,519.4 1382.8,528.4 1383.3,538.4 1383.8,549.3 1384.3,562.3 1384.8,577.4 1385.3,592.9 1385.8,607.3 1386.3,620.1 1386.8,632.8 1387.3,644.7 1387.8,654.9 1388.3,662.5 1388.8,668.4 1389.3,673.4 1389.8,677.3 1390.3,680.3 1390.8,683.0 1391.3,685.2 1391.8,686.3 1392.3,685.9 1392.8,684.3 1393.3,682.0 1393.8,679.1 1394.3,676.0 1394.8,673.0 1395.3,670.5 1395.8,668.7 1396.3,666.9 1396.8,665.1 1397.3,663.5 1397.8,662.1 1398.3,661.0 1398.8,660.4 1399.3,660.3 1399.8,660.8 1400.3,661.6 1400.8,662.7 1401.3,663.8 1401.8,664.9 1402.3,665.8 1402.8,666.4 1403.3,666.5 1403.8,665.1 1404.3,662.2 1404.8,658.3 1405.3,653.7 1405.8,648.6 1406.3,643.2 1406.8,635.9 1407.3,627.1 1407.8,617.4 1408.3,605.7 1408.8,593.0 1409.3,580.7 1409.8,568.7 1410.3,556.8 1410.8,544.8 1411.3,532.7 1411.8,520.7 1412.3,508.8 1412.8,497.0 1413.3,485.6 1413.8,475.1 1414.3,465.4 1414.6,459.9 1415.1,458.5 1415.6,456.4 1416.1,453.7 1416.6,450.6 1417.1,447.0 1417.6,443.2 1418.1,439.2 1418.6,434.4 1419.1,428.6 1419.6,422.0 1420.1,414.9 1420.6,407.4 1421.1,399.0 1421.6,389.7 1422.1,379.4 1422.6,368.0 1423.1,354.1 1423.6,338.6 1424.1,323.2 1424.6,309.4 1425.1,296.6 1425.6,284.0 1426.1,272.6 1426.6,263.4 1427.1,256.8 1427.6,251.3 1428.1,246.7 1428.6,243.3 1429.1,240.5 1429.6,238.0 1430.1,236.3 1430.6,236.1 1431.1,237.1 1431.6,238.9 1432.1,241.3 1432.6,244.0 1433.1,246.7 1433.6,249.1 1434.1,250.8 1434.6,252.4 1435.1,253.9 1435.6,255.4 1436.1,256.7 1436.6,257.8 1437.1,258.4 1437.6,258.5 1438.1,258.4 1438.6,258.2 1439.1,258.0 1439.6,257.7 1440.1,257.4 1440.6,257.2 1441.1,257.1 1441.6,257.1 1442.1,258.5 1442.6,261.3 1443.1,265.3 1443.6,270.0 1444.1,275.1 1444.6,280.6 1445.1,288.1 1445.6,297.1 1446.1,307.0 1446.6,318.9 1447.1,331.6 1447.6,343.8 1448.1,355.8 1448.6,367.7 1449.1,379.7 1449.6,391.8 1450.1,403.8 1450.6,415.6 1451.1,427.4 1451.6,438.5 1452.1,448.7 1452.6,458.1 1452.7,459.9 1453.2,461.4 1453.7,463.8 1454.2,466.7 1454.7,470.2 1455.2,474.2 1455.7,478.4 1456.2,483.0 1456.7,488.6 1457.2,495.3 1457.7,502.7 1458.2,510.7 1458.7,519.4 1459.2,529.2 1459.7,540.0 1460.2,552.0 1460.7,566.7 1461.2,583.3 1461.7,600.0 1462.2,614.9 1462.7,628.8 1463.2,642.3 1463.7,654.3 1464.2,663.6 1464.7,670.2 1465.2,675.8 1465.7,680.3 1466.2,683.5 1466.7,686.5 1467.2,688.7 1467.7,689.6 1468.2,688.9 1468.7,687.1 1469.2,684.6 1469.7,681.7 1470.2,678.8 1470.7,676.2 1471.2,674.3 1471.7,672.7 1472.2,671.0 1472.7,669.4 1473.2,668.0 1473.7,667.1 1474.2,666.6 1474.7,666.6 1475.2,666.7 1475.7,667.0 1476.2,667.3 1476.7,667.5 1477.2,667.8 1477.7,668.0 1478.2,668.0 1478.7,666.8 1479.2,663.8 1479.7,659.6 1480.2,654.5 1480.7,649.0 1481.2,642.8 1481.7,634.3 1482.2,624.4 1482.7,613.0 1483.2,599.6 1483.7,586.0 1484.2,573.0 1484.7,560.0 1485.2,547.1 1485.7,534.0 1486.2,521.0 1486.7,508.2 1487.2,495.4 1487.7,483.2 1488.2,472.1 1488.7,461.8 1488.8,459.9 1489.3,458.3 1489.8,455.8 1490.3,452.6 1490.8,448.8 1491.3,444.6 1491.8,440.1 1492.3,435.0 1492.8,428.6 1493.3,421.3 1493.8,413.2 1494.3,404.5 1494.8,394.7 1495.3,383.8 1495.8,371.7 1496.3,357.2 1496.8,340.0 1497.3,322.4 1497.8,306.4 1498.3,291.8 1498.8,277.6 1499.3,265.1 1499.8,255.6 1500.3,248.7 1500.8,243.1 1501.3,238.7 1501.8,235.4 1502.3,232.5 1502.8,230.5 1503.3,230.4 1503.8,231.5 1504.3,233.6 1504.8,236.2 1505.3,239.0 1505.8,241.6 1506.3,243.6 1506.8,245.2 1507.3,246.8 1507.8,248.3 1508.3,249.6 1508.8,250.5 1509.3,251.0 1509.8,251.0 1510.3,250.7 1510.8,250.4 1511.3,250.0 1511.8,249.6 1512.3,249.2 1512.8,249.0 1513.3,249.3 1513.8,251.5 1514.3,255.4 1514.8,260.4 1515.3,266.2 1515.8,272.3 1516.3,280.6 1516.8,290.8 1517.3,302.5 1517.8,316.5 1518.3,331.0 1518.8,344.8 1519.3,358.6 1519.8,372.4 1520.3,386.3 1520.8,400.1 1521.3,413.7 1521.8,427.3 1522.3,439.9 1522.8,451.4 1523.2,459.9 1523.7,461.6 1524.2,464.1 1524.7,467.4 1525.2,471.3 1525.7,475.6 1526.2,480.2 1526.7,485.5 1527.2,492.1 1527.7,499.7 1528.2,508.0 1528.7,516.9 1529.2,527.0 1529.7,538.3 1530.2,550.8 1530.7,565.8 1531.2,583.5 1531.7,601.6 1532.2,617.9 1532.7,632.8 1533.2,647.4 1533.7,660.1 1534.2,669.6 1534.7,676.6 1535.2,682.3 1535.7,686.7 1536.2,690.0 1536.7,693.0 1537.2,694.8 1537.7,694.9 1538.2,693.5 1538.7,691.2 1539.2,688.3 1539.7,685.4 1540.2,682.6 1540.7,680.6 1541.2,678.9 1541.7,677.2 1542.2,675.6 1542.7,674.2 1543.2,673.2 1543.7,672.8 1544.2,672.8 1544.7,672.8 1545.2,672.8 1545.7,672.8 1546.2,672.8 1546.7,672.8 1547.2,672.8 1547.7,672.3 1548.2,669.8 1548.7,665.7 1549.2,660.4 1549.7,654.6 1550.2,648.2 1550.7,639.3 1551.2,628.8 1551.7,616.6 1552.2,602.2 1552.7,587.6 1553.2,573.6 1553.7,559.7 1554.2,545.7 1554.7,531.6 1555.2,517.7 1555.7,503.9 1556.2,490.3 1556.7,477.8 1557.2,466.3 1557.5,459.9 1558.0,458.1 1558.5,455.3 1559.0,451.7 1559.5,447.5 1560.0,442.8 1560.5,437.8 1561.0,431.7 1561.5,424.3 1562.0,415.9 1562.5,406.7 1563.0,396.6 1563.5,385.2 1564.0,372.3 1564.5,357.5 1565.0,339.2 1565.5,319.8 1566.0,302.0 1566.5,286.0 1567.0,270.4 1567.5,256.8 1568.0,246.7 1568.5,239.3 1569.0,233.3 1569.5,228.8 1570.0,225.4 1570.5,222.4 1571.0,221.0 1571.5,221.6 1572.0,223.5 1572.5,226.4 1573.0,229.7 1573.5,232.9 1574.0,235.6 1574.5,237.4 1575.0,239.2 1575.5,240.9 1576.0,242.4 1576.5,243.6 1577.0,244.4 1577.5,244.7 1578.0,245.0 1578.5,245.1 1579.0,245.2 1579.5,245.4 1580.0,245.6 1580.5,246.0 1581.0,247.3 1581.5,250.6 1582.0,255.4 1582.5,261.1 1583.0,267.3 1583.5,275.3 1584.0,285.8 1584.5,297.7 1585.0,312.3 1585.5,327.9 1586.0,342.7 1586.5,357.4 1587.0,372.1 1587.5,386.9 1588.0,401.7 1588.5,416.2 1589.0,430.5 1589.5,443.5 1590.0,455.4 1590.2,459.9 1590.7,461.8 1591.2,464.8 1591.7,468.6 1592.2,473.1 1592.7,478.1 1593.2,483.5 1593.7,490.3 1594.2,498.5 1594.7,507.7 1595.2,517.6 1595.7,528.9 1596.2,541.6 1596.7,556.0 1597.2,574.0 1597.7,594.2 1598.2,613.5 1598.7,630.3 1599.2,646.8 1599.7,661.3 1600.2,672.2 1600.7,679.9 1601.2,686.1 1601.7,690.6 1602.2,694.2 1602.7,697.1 1603.2,698.1 1603.7,697.0 1604.2,694.7 1604.7,691.6 1605.2,688.2 1605.7,685.2 1606.2,683.0 1606.7,681.2 1607.2,679.5 1607.7,677.9 1608.2,676.6 1608.7,675.6 1609.2,675.0 1609.7,674.6 1610.2,674.3 1610.7,674.1 1611.2,673.8 1611.7,673.4 1612.2,672.8 1612.7,670.9 1613.2,667.1 1613.7,662.0 1614.2,655.9 1614.7,649.1 1615.2,639.7 1615.7,628.0 1616.2,614.3 1616.7,598.2 1617.2,582.5 1617.7,567.1 1618.2,551.8 1618.7,536.4 1619.2,521.0 1619.7,505.8 1620.2,490.8 1620.7,477.0 1621.2,464.6 1621.4,459.9 1621.9,458.0 1622.4,455.2 1622.9,451.5 1623.4,447.2 1623.9,442.4 1624.4,437.3 1624.9,430.9 1625.4,423.2 1625.9,414.5 1626.4,405.1 1626.9,394.6 1627.4,382.6 1627.9,369.3 1628.4,353.3 1628.9,334.2 1629.4,314.7 1629.9,297.4 1630.4,281.2 1630.9,265.9 1631.4,253.1 1631.9,244.3 1632.4,237.4 1632.9,231.9 1633.4,228.0 1633.9,224.6 1634.4,222.2 1634.9,221.8 1635.4,223.2 1635.9,225.6 1636.4,228.8 1636.9,232.0 1637.4,234.9 1637.9,237.0 1638.4,238.7 1638.9,240.4 1639.4,241.9 1639.9,243.2 1640.4,244.1 1640.9,244.8 1641.4,245.2 1641.9,245.4 1642.4,245.7 1642.9,245.9 1643.4,246.3 1643.9,246.8 1644.4,248.1 1644.9,251.3 1645.4,255.9 1645.9,261.6 1646.4,267.8 1646.9,275.7 1647.4,286.3 1647.9,298.4 1648.4,313.2 1648.9,328.9 1649.4,343.9 1649.9,358.8 1650.4,373.8 1650.9,388.8 1651.4,403.7 1651.9,418.4 1652.4,432.8 1652.9,445.8 1653.4,457.7 1653.5,459.9 1654.0,462.0 1654.5,465.2 1655.0,469.4 1655.5,474.3 1656.0,479.7 1656.5,485.8 1657.0,493.7 1657.5,502.9 1658.0,512.9 1658.5,524.2 1659.0,537.2 1659.5,551.8 1660.0,569.7 1660.5,590.9 1661.0,611.8 1661.5,629.9 1662.0,647.4 1662.5,662.9 1663.0,674.1 1663.5,682.1 1664.0,688.4 1664.5,692.8 1665.0,696.5 1665.5,699.0 1666.0,699.1 1666.5,697.1 1667.0,694.0 1667.5,690.3 1668.0,686.7 1668.5,683.9 1669.0,681.9 1669.5,679.9 1670.0,678.1 1670.5,676.6 1671.0,675.6 1671.5,675.0 1672.0,674.8 1672.5,674.6 1673.0,674.4 1673.5,674.2 1674.0,673.8 1674.5,673.1 1675.0,670.2 1675.5,665.3 1676.0,659.2 1676.5,652.3 1677.0,643.4 1677.5,631.5 1678.0,617.5 1678.5,600.7 1679.0,583.9 1679.5,567.6 1680.0,551.3 1680.5,534.9 1681.0,518.6 1681.5,502.5 1682.0,486.8 1682.5,472.7 1683.0,459.9 1683.5,457.9 1684.0,454.9 1684.5,451.0 1685.0,446.4 1685.5,441.4 1686.0,435.9 1686.5,428.9 1687.0,420.6 1687.5,411.3 1688.0,401.2 1688.5,389.6 1689.0,376.6 1689.5,361.9 1690.0,343.3 1690.5,322.8 1691.0,303.5 1691.5,286.6 1692.0,270.0 1692.5,255.6 1693.0,245.2 1693.5,237.6 1694.0,231.5 1694.5,227.2 1695.0,223.6 1695.5,220.9 1696.0,220.3 1696.5,221.5 1697.0,224.0 1697.5,227.0 1698.0,230.3 1698.5,233.1 1699.0,235.0 1699.5,236.9 1700.0,238.6 1700.5,240.2 1701.0,241.3 1701.5,241.9 1702.0,242.1 1702.5,242.2 1703.0,242.2 1703.5,242.3 1704.0,242.3 1704.5,242.4 1705.0,242.7 1705.5,244.9 1706.0,249.4 1706.5,255.2 1707.0,261.8 1707.5,269.4 1708.0,280.0 1708.5,292.4 1709.0,307.6 1709.5,324.3 1710.0,340.2 1710.5,356.0 1711.0,371.7 1711.5,387.6 1712.0,403.4 1712.5,419.0 1713.0,434.0 1713.5,447.6 1714.0,459.9 1714.5,462.0 1715.0,465.4 1715.5,469.7 1716.0,474.8 1716.5,480.3 1717.0,486.7 1717.5,494.9 1718.0,504.4 1718.5,514.8 1719.0,526.6 1719.5,540.2 1720.0,555.5 1720.5,574.8 1721.0,596.7 1721.5,617.4 1722.0,635.5 1722.5,653.1 1723.0,667.8 1723.5,677.8 1724.0,685.4 1724.5,691.1 1725.0,695.3 1725.5,698.7 1726.0,700.3 1726.5,699.5 1727.0,697.1 1727.5,693.7 1728.0,690.2 1728.5,687.0 1729.0,684.9 1729.5,683.0 1730.0,681.2 1730.5,679.7 1731.0,678.5 1731.5,677.7 1732.0,677.2 1732.5,676.9 1733.0,676.6 1733.5,676.3 1734.0,675.9 1734.5,675.2 1735.0,672.8 1735.5,668.3 1736.0,662.3 1736.5,655.5 1737.0,647.0 1737.5,635.3 1738.0,621.5 1738.5,604.5 1739.0,587.1 1739.5,570.4 1740.0,553.7 1740.5,536.9 1741.0,520.2 1741.5,503.7 1742.0,487.5 1742.5,473.0 1743.0,459.9" stroke="#00a500"/><path d="M64.0,464.5 68.2,462.0 77.9,458.4 84.9,453.8 91.9,450.3 98.8,445.1 106.5,439.9 111.0,427.7 116.3,410.3 119.7,389.4 125.0,365.0 130.2,347.6 135.4,342.3 140.0,342.3 145.9,349.3 151.1,354.5 156.3,360.8 161.6,363.2 168.5,362.2 175.5,359.8 180.7,351.0 186.0,338.9 191.2,329.4 198.1,328.4 203.4,335.4 210.3,349.3 217.3,359.8 224.3,378.9 229.5,389.4 234.7,410.3 240.0,431.2 245.2,450.3 252.2,453.8 257.4,461.0 264.3,462.7 269.6,467.9 274.8,471.4 281.8,481.9 287.0,490.6 290.5,508.0 294.0,528.9 297.4,549.8 300.9,574.2 304.4,589.9 309.6,598.6 313.1,596.9 316.6,589.9 321.8,582.9 327.1,577.7 334.0,570.7 339.3,568.3 342.7,570.7 348.0,581.2 353.2,591.6 358.4,603.8 360.9,610.8 364.0,605.6 364.0,607.3 369.2,598.6 374.5,588.2 379.7,574.2 384.9,562.0 390.1,551.6 393.6,539.4 397.1,528.9 400.6,504.5 404.1,483.6 407.6,469.7 411.0,462.7 419.7,457.3 426.7,452.1 431.9,448.6 437.2,438.2 442.4,420.7 446.9,403.3 450.4,378.9 453.9,351.0 457.4,326.7 460.9,309.2 465.7,304.0 470.3,311.0 475.5,319.7 480.7,331.9 486.0,338.9 489.4,339.9 494.7,335.4 498.1,323.2 503.4,309.2 506.9,298.8 512.1,296.0 517.3,302.3 520.8,312.7 524.3,323.2 527.8,338.9 533.0,351.0 536.5,368.5 540.0,382.4 543.4,403.3 546.9,424.2 550.4,441.6 555.6,457.3 562.6,462.7 569.6,469.7 574.8,476.7 580.0,490.6 583.5,511.5 587.0,546.3 590.5,574.2 594.0,598.6 597.4,623.0 600.9,632.8 604.4,626.5 607.9,616.0 611.4,605.6 614.9,595.1 620.1,589.9 624.6,593.4 628.8,605.6 634.0,623.0 637.5,631.7 641.0,635.2 644.5,626.5 648.0,612.5 651.5,595.1 654.9,567.2 658.4,546.3 661.9,522.0 664.0,504.5 664.0,511.5 667.5,487.1 671.0,469.7 674.5,460.0 674.5,461.0 679.7,454.7 684.9,449.5 690.1,439.1 693.6,421.6 697.1,393.8 700.6,355.4 704.1,320.6 707.6,289.2 711.0,280.5 716.3,278.1 719.7,289.2 725.0,308.4 728.5,318.9 731.9,317.1 735.4,306.7 738.9,292.7 744.1,282.3 747.6,278.8 751.1,296.2 756.3,310.1 759.8,345.0 763.3,386.8 766.8,425.1 770.3,453.0 773.8,460.0 777.2,464.5 782.5,469.7 786.0,480.1 789.4,497.6 792.9,525.4 796.4,553.3 799.9,595.1 803.4,636.9 806.2,650.2 810.3,640.4 815.6,623.0 819.1,617.8 822.5,615.3 826.0,626.5 829.5,640.4 833.0,647.4 836.5,640.4 840.0,623.0 843.4,584.7 846.9,535.9 850.4,490.6 853.9,466.2 859.1,456.5 864.3,446.0 867.8,432.1 871.3,390.3 874.8,355.4 878.3,317.1 881.8,278.8 885.3,263.1 890.5,273.6 894.0,289.2 897.4,296.2 902.7,289.2 907.9,270.1 913.1,278.8 916.6,320.6 920.1,369.4 923.6,425.1 927.1,456.5 928.5,459.9 929.0,460.5 929.5,461.4 930.0,462.5 930.5,463.7 931.0,465.1 931.5,466.7 932.0,468.4 932.5,470.2 933.0,472.1 933.5,474.1 934.0,476.1 934.5,478.2 935.0,480.5 935.5,483.2 936.0,486.1 936.5,489.3 937.0,492.7 937.5,496.3 938.0,500.0 938.5,503.8 939.0,507.9 939.5,512.2 940.0,516.8 940.5,521.6 941.0,526.8 941.5,532.2 942.0,537.9 942.5,544.3 943.0,551.6 943.5,559.4 944.0,567.4 944.5,575.5 945.0,583.2 945.5,590.5 946.0,597.1 946.5,603.7 947.0,610.3 947.5,616.7 948.0,622.7 948.5,628.2 949.0,633.0 949.5,637.0 950.0,640.2 950.5,643.2 951.0,645.9 951.5,648.3 952.0,650.3 952.5,652.1 953.0,653.6 953.5,655.0 954.0,656.4 954.5,657.6 955.0,658.4 955.5,658.9 956.0,659.0 956.5,658.5 957.0,657.6 957.5,656.4 958.0,655.0 958.5,653.3 959.0,651.5 959.5,649.6 960.0,647.7 960.5,645.9 961.0,644.2 961.5,642.8 962.0,641.6 962.5,640.6 963.0,639.5 963.5,638.4 964.0,637.4 964.5,636.3 965.0,635.4 965.5,634.5 966.0,633.7 966.5,633.1 967.0,632.6 967.5,632.3 968.0,632.2 968.5,632.7 969.0,633.7 969.5,635.2 970.0,637.1 970.5,639.3 971.0,641.7 971.5,644.1 972.0,646.6 972.5,648.8 973.0,650.9 973.5,652.6 974.0,653.9 974.5,654.6 975.0,654.7 975.5,654.2 976.0,653.2 976.5,651.7 977.0,649.8 977.5,647.5 978.0,645.0 978.5,642.4 979.0,639.5 979.5,636.7 980.0,633.7 980.5,630.1 981.0,625.8 981.5,621.0 982.0,615.9 982.5,610.5 983.0,604.5 983.5,597.8 984.0,590.8 984.5,583.7 985.0,576.8 985.5,570.2 986.0,563.5 986.5,556.8 987.0,550.2 987.5,543.5 988.0,536.8 988.5,530.1 989.0,523.4 989.5,516.7 990.0,510.1 990.5,503.5 991.0,496.9 991.5,490.4 992.0,484.1 992.5,478.2 993.0,472.5 993.5,467.1 994.0,461.9 994.2,459.9 994.7,459.2 995.2,458.2 995.7,456.9 996.2,455.5 996.7,453.8 997.2,452.0 997.7,450.0 998.2,447.9 998.7,445.8 999.2,443.5 999.7,441.1 1000.2,438.5 1000.7,435.5 1001.2,432.1 1001.7,428.5 1002.2,424.6 1002.7,420.5 1003.2,416.2 1003.7,411.8 1004.2,407.1 1004.7,402.0 1005.2,396.5 1005.7,390.7 1006.2,384.6 1006.7,378.1 1007.2,370.5 1007.7,362.1 1008.2,353.2 1008.7,344.2 1009.2,335.4 1009.7,327.2 1010.2,319.8 1010.7,312.3 1011.2,305.0 1011.7,297.9 1012.2,291.3 1012.7,285.5 1013.2,280.6 1013.7,276.7 1014.2,273.3 1014.7,270.2 1015.2,267.5 1015.7,265.1 1016.2,263.2 1016.7,261.5 1017.2,259.9 1017.7,258.5 1018.2,257.3 1018.7,256.5 1019.2,256.3 1019.7,256.6 1020.2,257.4 1020.7,258.5 1021.2,260.0 1021.7,261.7 1022.2,263.5 1022.7,265.4 1023.2,267.2 1023.7,268.9 1024.2,270.5 1024.7,271.7 1025.2,272.8 1025.7,273.8 1026.2,274.9 1026.7,276.0 1027.2,277.0 1027.7,277.9 1028.2,278.8 1028.7,279.5 1029.2,280.0 1029.7,280.4 1030.2,280.6 1030.7,280.3 1031.2,279.5 1031.7,278.3 1032.2,276.7 1032.7,274.8 1033.2,272.8 1033.7,270.8 1034.2,268.8 1034.7,266.9 1035.2,265.4 1035.7,264.2 1036.2,263.5 1036.7,263.3 1037.2,263.8 1037.7,265.0 1038.2,266.8 1038.7,269.0 1039.2,271.5 1039.7,274.4 1040.2,277.4 1040.7,280.6 1041.2,283.7 1041.7,287.6 1042.2,292.3 1042.7,297.6 1043.2,303.2 1043.7,309.2 1044.2,316.1 1044.7,323.6 1045.2,331.4 1045.7,339.2 1046.2,346.6 1046.7,353.9 1047.2,361.3 1047.7,368.6 1048.2,376.0 1048.7,383.4 1049.2,390.8 1049.7,398.2 1050.2,405.5 1050.7,412.8 1051.2,420.1 1051.7,427.3 1052.2,434.3 1052.7,440.9 1053.2,447.1 1053.7,453.1 1054.2,458.8 1054.3,459.9 1054.8,460.7 1055.3,461.8 1055.8,463.2 1056.3,464.9 1056.8,466.7 1057.3,468.8 1057.8,471.0 1058.3,473.3 1058.8,475.8 1059.3,478.3 1059.8,481.1 1060.3,484.3 1060.8,488.0 1061.3,491.9 1061.8,496.2 1062.3,500.7 1062.8,505.3 1063.3,510.3 1063.8,515.6 1064.3,521.3 1064.8,527.5 1065.3,534.0 1065.8,541.0 1066.3,549.0 1066.8,558.1 1067.3,567.8 1067.8,577.5 1068.3,587.0 1068.8,595.7 1069.3,603.7 1069.8,611.7 1070.3,619.6 1070.8,627.0 1071.3,633.7 1071.8,639.3 1072.3,643.7 1072.8,647.4 1073.3,650.8 1073.8,653.7 1074.3,656.2 1074.8,658.3 1075.3,660.0 1075.8,661.7 1076.3,663.2 1076.8,664.2 1077.3,664.8 1077.8,664.7 1078.3,664.1 1078.8,663.3 1079.3,662.2 1079.8,660.9 1080.3,659.5 1080.8,658.1 1081.3,656.7 1081.8,655.4 1082.3,654.3 1082.8,653.4 1083.3,652.6 1083.8,651.8 1084.3,651.0 1084.8,650.2 1085.3,649.4 1085.8,648.8 1086.3,648.2 1086.8,647.8 1087.3,647.6 1087.8,647.5 1088.3,648.0 1088.8,649.0 1089.3,650.5 1089.8,652.4 1090.3,654.4 1090.8,656.6 1091.3,658.7 1091.8,660.6 1092.3,662.3 1092.8,663.5 1093.3,664.2 1093.8,664.2 1094.3,663.4 1094.8,661.8 1095.3,659.6 1095.8,656.9 1096.3,653.9 1096.8,650.5 1097.3,647.0 1097.8,643.5 1098.3,639.2 1098.8,634.0 1099.3,628.0 1099.8,621.6 1100.3,614.7 1100.8,606.8 1101.3,598.1 1101.8,589.4 1102.3,580.9 1102.8,572.7 1103.3,564.4 1103.8,556.1 1104.3,547.9 1104.8,539.6 1105.3,531.3 1105.8,523.0 1106.3,514.8 1106.8,506.6 1107.3,498.5 1107.8,490.4 1108.3,482.8 1108.8,475.7 1109.3,468.8 1109.8,462.4 1110.0,459.9 1110.5,459.0 1111.0,457.8 1111.5,456.2 1112.0,454.3 1112.5,452.3 1113.0,449.9 1113.5,447.5 1114.0,444.9 1114.5,442.1 1115.0,439.3 1115.5,435.9 1116.0,432.1 1116.5,427.8 1117.0,423.2 1117.5,418.3 1118.0,413.3 1118.5,407.9 1119.0,402.0 1119.5,395.7 1120.0,388.9 1120.5,381.7 1121.0,373.9 1121.5,364.7 1122.0,354.5 1122.5,343.8 1123.0,333.2 1123.5,323.2 1124.0,314.2 1124.5,305.4 1125.0,296.7 1125.5,288.4 1126.0,280.9 1126.5,274.6 1127.0,269.7 1127.5,265.5 1128.0,261.9 1128.5,258.7 1129.0,256.0 1129.5,253.9 1130.0,252.0 1130.5,250.2 1131.0,248.7 1131.5,247.7 1132.0,247.5 1132.5,248.0 1133.0,249.1 1133.5,250.6 1134.0,252.5 1134.5,254.5 1135.0,256.6 1135.5,258.7 1136.0,260.6 1136.5,262.3 1137.0,263.6 1137.5,264.8 1138.0,266.0 1138.5,267.2 1139.0,268.4 1139.5,269.4 1140.0,270.3 1140.5,271.1 1141.0,271.6 1141.5,271.8 1142.0,271.5 1142.5,270.5 1143.0,268.8 1143.5,266.7 1144.0,264.3 1144.5,261.7 1145.0,259.2 1145.5,256.8 1146.0,254.9 1146.5,253.5 1147.0,252.8 1147.5,253.0 1148.0,254.1 1148.5,256.1 1149.0,258.6 1149.5,261.7 1150.0,265.2 1150.5,268.9 1151.0,272.7 1151.5,276.9 1152.0,282.2 1152.5,288.5 1153.0,295.3 1153.5,302.6 1154.0,311.1 1154.5,320.4 1155.0,329.8 1155.5,338.8 1156.0,347.6 1156.5,356.5 1157.0,365.3 1157.5,374.1 1158.0,383.0 1158.5,391.9 1159.0,400.8 1159.5,409.5 1160.0,418.3 1160.5,426.9 1161.0,435.2 1161.5,443.0 1162.0,450.3 1162.5,457.2 1162.7,459.9 1163.2,460.8 1163.7,462.1 1164.2,463.8 1164.7,465.7 1165.2,467.9 1165.7,470.4 1166.2,473.0 1166.7,475.7 1167.2,478.5 1167.7,481.7 1168.2,485.4 1168.7,489.5 1169.2,494.1 1169.7,499.1 1170.2,504.2 1170.7,509.6 1171.2,515.5 1171.7,521.9 1172.2,528.7 1172.7,536.1 1173.2,544.1 1173.7,553.4 1174.2,563.8 1174.7,574.9 1175.2,585.8 1175.7,596.1 1176.2,605.2 1176.7,614.3 1177.2,623.3 1177.7,631.7 1178.2,639.1 1178.7,645.2 1179.2,649.9 1179.7,654.0 1180.2,657.6 1180.7,660.6 1181.2,663.1 1181.7,665.1 1182.2,667.0 1182.7,668.7 1183.2,669.9 1183.7,670.3 1184.2,670.1 1184.7,669.5 1185.2,668.7 1185.7,667.6 1186.2,666.4 1186.7,665.1 1187.2,663.9 1187.7,662.8 1188.2,661.8 1188.7,661.1 1189.2,660.4 1189.7,659.6 1190.2,658.9 1190.7,658.3 1191.2,657.7 1191.7,657.2 1192.2,656.8 1192.7,656.6 1193.2,656.5 1193.7,656.8 1194.2,657.5 1194.7,658.4 1195.2,659.5 1195.7,660.6 1196.2,661.8 1196.7,662.8 1197.2,663.8 1197.7,664.4 1198.2,664.8 1198.7,664.6 1199.2,663.4 1199.7,661.4 1200.2,658.7 1200.7,655.4 1201.2,651.8 1201.7,648.0 1202.2,644.0 1202.7,639.3 1203.2,633.5 1203.7,626.8 1204.2,619.6 1204.7,611.5 1205.2,602.3 1205.7,592.6 1206.2,583.1 1206.7,574.0 1207.2,564.9 1207.7,555.8 1208.2,546.7 1208.7,537.5 1209.2,528.4 1209.7,519.2 1210.2,510.2 1210.7,501.2 1211.2,492.3 1211.7,483.8 1212.2,475.8 1212.7,468.3 1213.2,461.3 1213.3,459.9 1213.8,458.9 1214.3,457.4 1214.8,455.6 1215.3,453.4 1215.8,450.9 1216.3,448.2 1216.8,445.3 1217.3,442.2 1217.8,439.0 1218.3,435.2 1218.8,430.8 1219.3,425.9 1219.8,420.6 1220.3,415.0 1220.8,409.1 1221.3,402.7 1221.8,395.7 1222.3,388.1 1222.8,380.0 1223.3,371.0 1223.8,360.3 1224.3,348.6 1224.8,336.5 1225.3,324.9 1225.8,314.5 1226.3,304.6 1226.8,294.8 1227.3,285.5 1227.8,277.2 1228.3,270.4 1228.8,265.3 1229.3,260.8 1229.8,257.0 1230.3,253.8 1230.8,251.3 1231.3,249.1 1231.8,247.1 1232.3,245.5 1232.8,244.6 1233.3,244.6 1233.8,245.3 1234.3,246.6 1234.8,248.3 1235.3,250.2 1235.8,252.2 1236.3,254.2 1236.8,256.0 1237.3,257.5 1237.8,258.6 1238.3,259.8 1238.8,260.9 1239.3,262.0 1239.8,263.1 1240.3,264.0 1240.8,264.7 1241.3,265.1 1241.8,265.3 1242.3,265.0 1242.8,264.3 1243.3,263.2 1243.8,261.9 1244.3,260.5 1244.8,259.1 1245.3,257.8 1245.8,256.7 1246.3,256.0 1246.8,255.8 1247.3,256.4 1247.8,258.1 1248.3,260.6 1248.8,263.9 1249.3,267.6 1249.8,271.6 1250.3,275.8 1250.8,280.6 1251.3,286.7 1251.8,293.8 1252.3,301.5 1252.8,310.2 1253.3,320.2 1253.8,330.4 1254.3,340.3 1254.8,350.0 1255.3,359.7 1255.8,369.3 1256.3,379.0 1256.8,388.7 1257.3,398.4 1257.8,408.1 1258.3,417.6 1258.8,427.1 1259.3,436.2 1259.8,444.5 1260.3,452.5 1260.8,459.9 1261.3,461.0 1261.8,462.6 1262.3,464.7 1262.8,467.1 1263.3,469.9 1263.8,472.9 1264.3,476.1 1264.8,479.4 1265.3,483.2 1265.8,487.8 1266.3,493.0 1266.8,498.6 1267.3,504.6 1267.8,510.9 1268.3,517.9 1268.8,525.5 1269.3,533.8 1269.8,542.8 1270.3,553.1 1270.8,565.2 1271.3,578.1 1271.8,590.9 1272.3,602.4 1272.8,613.0 1273.3,623.6 1273.8,633.6 1274.3,642.4 1274.8,649.4 1275.3,654.7 1275.8,659.3 1276.3,663.1 1276.8,666.3 1277.3,668.7 1277.8,671.0 1278.3,672.9 1278.8,674.1 1279.3,674.3 1279.8,673.8 1280.3,672.9 1280.8,671.7 1281.3,670.3 1281.8,668.8 1282.3,667.4 1282.8,666.1 1283.3,665.2 1283.8,664.4 1284.3,663.5 1284.8,662.7 1285.3,661.9 1285.8,661.2 1286.3,660.7 1286.8,660.4 1287.3,660.3 1287.8,660.4 1288.3,660.6 1288.8,661.0 1289.3,661.4 1289.8,661.9 1290.3,662.3 1290.8,662.6 1291.3,662.9 1291.8,663.0 1292.3,662.6 1292.8,660.9 1293.3,658.2 1293.8,654.7 1294.3,650.6 1294.8,646.3 1295.3,641.8 1295.8,636.1 1296.3,629.0 1296.8,621.0 1297.3,612.3 1297.8,601.9 1298.3,590.9 1298.8,580.2 1299.3,569.9 1299.8,559.5 1300.3,549.2 1300.8,538.8 1301.3,528.3 1301.8,518.0 1302.3,507.7 1302.8,497.5 1303.3,487.5 1303.8,478.2 1304.3,469.5 1304.8,461.4 1304.9,459.9 1305.4,458.7 1305.9,457.0 1306.4,454.9 1306.9,452.3 1307.4,449.4 1307.9,446.2 1308.4,442.9 1308.9,439.4 1309.4,435.3 1309.9,430.4 1310.4,424.8 1310.9,418.9 1311.4,412.6 1311.9,405.8 1312.4,398.3 1312.9,390.2 1313.4,381.3 1313.9,371.6 1314.4,360.0 1314.9,346.9 1315.4,333.4 1315.9,320.6 1316.4,309.3 1316.9,298.2 1317.4,287.4 1317.9,277.5 1318.4,269.3 1318.9,263.1 1319.4,258.1 1319.9,253.8 1320.4,250.2 1320.9,247.5 1321.4,245.1 1321.9,243.0 1322.4,241.5 1322.9,241.0 1323.4,241.6 1323.9,243.0 1324.4,245.0 1324.9,247.4 1325.4,249.9 1325.9,252.3 1326.4,254.5 1326.9,256.2 1327.4,257.6 1327.9,259.0 1328.4,260.5 1328.9,261.8 1329.4,262.9 1329.9,263.8 1330.4,264.4 1330.9,264.5 1331.4,264.1 1331.9,263.0 1332.4,261.6 1332.9,259.9 1333.4,258.2 1333.9,256.6 1334.4,255.2 1334.9,254.3 1335.4,254.0 1335.9,254.9 1336.4,257.0 1336.9,260.1 1337.4,263.9 1337.9,268.2 1338.4,272.8 1338.9,277.8 1339.4,284.3 1339.9,292.2 1340.4,300.6 1340.9,310.6 1341.4,321.7 1341.9,333.1 1342.4,343.8 1342.9,354.6 1343.4,365.3 1343.9,376.0 1344.4,386.8 1344.9,397.6 1345.4,408.2 1345.9,418.8 1346.4,429.3 1346.9,439.1 1347.4,448.2 1347.9,456.7 1348.1,459.9 1348.6,461.2 1349.1,463.0 1349.6,465.4 1350.1,468.3 1350.6,471.4 1351.1,474.9 1351.6,478.5 1352.1,482.6 1352.6,487.5 1353.1,493.2 1353.6,499.4 1354.1,506.1 1354.6,513.2 1355.1,521.2 1355.6,529.9 1356.1,539.5 1356.6,550.1 1357.1,563.0 1357.6,577.2 1358.1,591.4 1358.6,604.4 1359.1,616.1 1359.6,627.8 1360.1,638.7 1360.6,648.0 1361.1,654.9 1361.6,660.3 1362.1,664.9 1362.6,668.6 1363.1,671.5 1363.6,674.0 1364.1,676.1 1364.6,677.4 1365.1,677.5 1365.6,676.9 1366.1,675.9 1366.6,674.5 1367.1,673.1 1367.6,671.7 1368.1,670.4 1368.6,669.3 1369.1,668.5 1369.6,667.7 1370.1,666.9 1370.6,666.1 1371.1,665.5 1371.6,665.0 1372.1,664.8 1372.6,664.9 1373.1,665.3 1373.6,665.9 1374.1,666.8 1374.6,667.7 1375.1,668.5 1375.6,669.2 1376.1,669.7 1376.6,669.8 1377.1,668.6 1377.6,666.1 1378.1,662.5 1378.6,658.0 1379.1,653.2 1379.6,648.1 1380.1,641.7 1380.6,633.6 1381.1,624.5 1381.6,614.1 1382.1,602.0 1382.6,589.6 1383.1,577.8 1383.6,566.1 1384.1,554.4 1384.6,542.7 1385.1,530.9 1385.6,519.1 1386.1,507.6 1386.6,496.0 1387.1,484.9 1387.6,474.7 1388.1,465.2 1388.4,459.9 1388.9,458.6 1389.4,456.7 1389.9,454.2 1390.4,451.3 1390.9,448.1 1391.4,444.5 1391.9,440.8 1392.4,436.7 1392.9,431.6 1393.4,425.8 1393.9,419.3 1394.4,412.5 1394.9,405.2 1395.4,397.0 1395.9,388.0 1396.4,378.2 1396.9,367.1 1397.4,353.8 1397.9,339.2 1398.4,324.7 1398.9,311.7 1399.4,299.7 1399.9,287.8 1400.4,276.8 1400.9,267.6 1401.4,260.8 1401.9,255.4 1402.4,250.8 1402.9,247.1 1403.4,244.3 1403.9,241.7 1404.4,239.6 1404.9,238.5 1405.4,238.7 1405.9,239.6 1406.4,241.0 1406.9,242.7 1407.4,244.6 1407.9,246.5 1408.4,248.1 1408.9,249.3 1409.4,250.4 1409.9,251.5 1410.4,252.5 1410.9,253.5 1411.4,254.3 1411.9,254.8 1412.4,255.0 1412.9,254.9 1413.4,254.3 1413.9,253.6 1414.4,252.7 1414.9,251.8 1415.4,250.9 1415.9,250.2 1416.4,249.8 1416.9,249.9 1417.4,251.5 1417.9,254.4 1418.4,258.4 1418.9,263.0 1419.4,268.0 1419.9,273.2 1420.4,280.3 1420.9,288.9 1421.4,298.3 1421.9,309.5 1422.4,321.9 1422.9,334.1 1423.4,345.9 1423.9,357.7 1424.4,369.5 1424.9,381.3 1425.4,393.2 1425.9,405.0 1426.4,416.6 1426.9,428.1 1427.4,438.9 1427.9,448.9 1428.4,458.1 1428.5,459.9 1429.0,461.4 1429.5,463.6 1430.0,466.4 1430.5,469.7 1431.0,473.4 1431.5,477.4 1432.0,481.7 1432.5,487.1 1433.0,493.4 1433.5,500.4 1434.0,507.9 1434.5,516.1 1435.0,525.4 1435.5,535.6 1436.0,546.9 1436.5,560.6 1437.0,576.3 1437.5,592.2 1438.0,606.6 1438.5,619.8 1439.0,632.7 1439.5,644.3 1440.0,653.5 1440.5,660.1 1441.0,665.5 1441.5,669.9 1442.0,673.1 1442.5,675.9 1443.0,678.2 1443.5,679.3 1444.0,679.1 1444.5,678.4 1445.0,677.4 1445.5,676.3 1446.0,675.1 1446.5,674.0 1447.0,673.1 1447.5,672.5 1448.0,671.8 1448.5,671.1 1449.0,670.5 1449.5,670.1 1450.0,669.8 1450.5,669.8 1451.0,670.2 1451.5,670.9 1452.0,671.7 1452.5,672.6 1453.0,673.4 1453.5,674.0 1454.0,674.3 1454.5,673.6 1455.0,671.0 1455.5,667.0 1456.0,662.0 1456.5,656.4 1457.0,650.5 1457.5,642.5 1458.0,632.7 1458.5,621.8 1459.0,608.6 1459.5,594.5 1460.0,581.0 1460.5,567.8 1461.0,554.5 1461.5,541.1 1462.0,527.8 1462.5,514.5 1463.0,501.4 1463.5,488.6 1464.0,476.8 1464.5,466.0 1464.8,459.9 1465.3,458.4 1465.8,456.1 1466.3,453.2 1466.8,449.8 1467.3,446.0 1467.8,441.9 1468.3,437.4 1468.8,431.9 1469.3,425.4 1469.8,418.1 1470.3,410.4 1470.8,401.9 1471.3,392.4 1471.8,381.8 1472.3,370.1 1472.8,355.8 1473.3,339.6 1473.8,323.3 1474.3,308.8 1474.8,295.2 1475.3,282.0 1475.8,270.4 1476.3,261.4 1476.8,254.8 1477.3,249.4 1477.8,245.1 1478.3,241.9 1478.8,239.0 1479.3,236.8 1479.8,236.0 1480.3,236.4 1480.8,237.6 1481.3,239.1 1481.8,241.0 1482.3,242.8 1482.8,244.4 1483.3,245.6 1483.8,246.6 1484.3,247.7 1484.8,248.7 1485.3,249.6 1485.8,250.2 1486.3,250.5 1486.8,250.5 1487.3,250.2 1487.8,249.9 1488.3,249.4 1488.8,249.0 1489.3,248.6 1489.8,248.3 1490.3,248.3 1490.8,249.5 1491.3,252.5 1491.8,256.8 1492.3,262.0 1492.8,267.6 1493.3,274.0 1493.8,282.6 1494.3,292.7 1494.8,304.2 1495.3,317.8 1495.8,331.7 1496.3,344.9 1496.8,358.1 1497.3,371.3 1497.8,384.5 1498.3,397.8 1498.8,410.8 1499.3,423.8 1499.8,436.2 1500.3,447.5 1500.8,457.9 1500.9,459.9 1501.4,461.6 1501.9,464.1 1502.4,467.4 1502.9,471.2 1503.4,475.5 1503.9,480.0 1504.4,485.4 1504.9,492.0 1505.4,499.6 1505.9,507.9 1506.4,516.9 1506.9,527.1 1507.4,538.5 1507.9,551.3 1508.4,567.2 1508.9,584.9 1509.4,602.2 1509.9,617.3 1510.4,631.9 1510.9,645.5 1511.4,656.6 1511.9,664.3 1512.4,670.5 1512.9,675.4 1513.4,679.0 1513.9,682.1 1514.4,684.4 1514.9,685.1 1515.4,684.6 1515.9,683.7 1516.4,682.5 1516.9,681.1 1517.4,679.8 1517.9,678.9 1518.4,678.1 1518.9,677.5 1519.4,676.8 1519.9,676.3 1520.4,675.8 1520.9,675.4 1521.4,675.1 1521.9,674.8 1522.4,674.7 1522.9,674.5 1523.4,674.3 1523.9,674.0 1524.4,673.7 1524.9,672.5 1525.4,669.6 1525.9,665.2 1526.4,659.8 1526.9,653.8 1527.4,646.7 1527.9,637.0 1528.4,625.9 1528.9,612.4 1529.4,597.3 1529.9,582.6 1530.4,568.3 1530.9,553.9 1531.4,539.6 1531.9,525.1 1532.4,510.9 1532.9,496.7 1533.4,483.3 1533.9,471.1 1534.4,459.9 1534.9,458.3 1535.4,455.8 1535.9,452.6 1536.4,448.9 1536.9,444.7 1537.4,440.2 1537.9,435.2 1538.4,428.9 1538.9,421.5 1539.4,413.5 1539.9,404.9 1540.4,395.3 1540.9,384.4 1541.4,372.4 1541.9,358.2 1542.4,341.3 1542.9,323.6 1543.4,307.4 1543.9,292.9 1544.4,278.6 1544.9,265.8 1545.4,255.9 1545.9,248.9 1546.4,243.1 1546.9,238.5 1547.4,235.1 1547.9,232.1 1548.4,230.0 1548.9,229.5 1549.4,230.1 1549.9,231.3 1550.4,232.8 1550.9,234.5 1551.4,236.0 1551.9,237.3 1552.4,238.2 1552.9,239.0 1553.4,239.7 1553.9,240.4 1554.4,241.0 1554.9,241.7 1555.4,242.3 1555.9,242.8 1556.4,243.2 1556.9,243.6 1557.4,244.0 1557.9,244.6 1558.4,245.3 1558.9,246.3 1559.4,248.4 1559.9,251.9 1560.4,256.4 1560.9,261.7 1561.4,267.5 1561.9,275.1 1562.4,284.9 1562.9,296.0 1563.4,309.5 1563.9,324.2 1564.4,338.3 1564.9,352.3 1565.4,366.2 1565.9,380.1 1566.4,394.1 1566.9,407.9 1567.4,421.6 1567.9,434.8 1568.4,446.8 1568.9,457.8 1569.0,459.9 1569.5,461.7 1570.0,464.4 1570.5,467.9 1571.0,472.0 1571.5,476.6 1572.0,481.5 1572.5,487.5 1573.0,494.8 1573.5,503.1 1574.0,512.1 1574.5,522.1 1575.0,533.4 1575.5,546.1 1576.0,561.1 1576.5,579.2 1577.0,598.0 1577.5,614.8 1578.0,630.3 1578.5,645.1 1579.0,657.7 1579.5,666.6 1580.0,673.4 1580.5,678.8 1581.0,682.8 1581.5,686.1 1582.0,688.6 1582.5,689.3 1583.0,688.8 1583.5,687.6 1584.0,686.1 1584.5,684.4 1585.0,682.9 1585.5,681.8 1586.0,680.9 1586.5,680.2 1587.0,679.5 1587.5,678.8 1588.0,678.2 1588.5,677.7 1589.0,677.3 1589.5,677.0 1590.0,676.7 1590.5,676.4 1591.0,676.0 1591.5,675.4 1592.0,674.5 1592.5,671.8 1593.0,667.5 1593.5,662.1 1594.0,656.0 1594.5,648.9 1595.0,639.0 1595.5,627.4 1596.0,613.4 1596.5,597.6 1597.0,582.3 1597.5,567.4 1598.0,552.4 1598.5,537.3 1599.0,522.3 1599.5,507.5 1600.0,492.7 1600.5,479.2 1601.0,466.8 1601.3,459.9 1601.8,458.1 1602.3,455.3 1602.8,451.6 1603.3,447.4 1603.8,442.7 1604.3,437.6 1604.8,431.2 1605.3,423.4 1605.8,414.8 1606.3,405.5 1606.8,394.9 1607.3,382.9 1607.8,369.4 1608.3,352.6 1608.8,333.6 1609.3,315.0 1609.8,298.9 1610.3,283.2 1610.8,269.1 1611.3,258.3 1611.8,250.8 1612.3,244.7 1612.8,240.1 1613.3,236.7 1613.8,233.8 1614.3,232.5 1614.8,232.8 1615.3,233.7 1615.8,234.9 1616.3,236.3 1616.8,237.6 1617.3,238.6 1617.8,239.4 1618.3,240.1 1618.8,240.7 1619.3,241.3 1619.8,241.8 1620.3,242.1 1620.8,242.3 1621.3,242.4 1621.8,242.5 1622.3,242.7 1622.8,242.9 1623.3,243.1 1623.8,244.2 1624.3,247.4 1624.8,252.4 1625.3,258.4 1625.8,265.0 1626.3,273.6 1626.8,284.8 1627.3,297.7 1627.8,313.5 1628.3,329.8 1628.8,345.3 1629.3,360.8 1629.8,376.4 1630.3,392.0 1630.8,407.4 1631.3,422.7 1631.8,437.2 1632.3,450.3 1632.7,459.9 1633.2,461.9 1633.7,464.9 1634.2,468.9 1634.7,473.5 1635.2,478.6 1635.7,484.2 1636.2,491.4 1636.7,500.0 1637.2,509.5 1637.7,519.9 1638.2,531.8 1638.7,545.3 1639.2,561.1 1639.7,580.7 1640.2,601.0 1640.7,619.1 1641.2,635.9 1641.7,651.7 1642.2,664.3 1642.7,672.9 1643.2,679.6 1643.7,684.7 1644.2,688.5 1644.7,691.6 1645.2,693.1 1645.7,692.7 1646.2,691.7 1646.7,690.3 1647.2,688.7 1647.7,687.3 1648.2,686.2 1648.7,685.4 1649.2,684.7 1649.7,684.0 1650.2,683.4 1650.7,682.9 1651.2,682.5 1651.7,682.3 1652.2,682.1 1652.7,681.8 1653.2,681.6 1653.7,681.1 1654.2,680.3 1654.7,677.4 1655.2,672.6 1655.7,666.4 1656.2,659.5 1656.7,650.8 1657.2,639.1 1657.7,625.5 1658.2,608.7 1658.7,591.5 1659.2,575.1 1659.7,558.6 1660.2,542.1 1660.7,525.6 1661.2,509.3 1661.7,493.1 1662.2,478.3 1662.7,464.9 1662.9,459.9 1663.4,458.0 1663.9,455.0 1664.4,451.2 1664.9,446.7 1665.4,441.8 1665.9,436.4 1666.4,429.6 1666.9,421.4 1667.4,412.3 1667.9,402.4 1668.4,391.1 1668.9,378.4 1669.4,363.9 1669.9,345.7 1670.4,325.7 1670.9,306.8 1671.4,290.2 1671.9,274.0 1672.4,259.9 1672.9,249.7 1673.4,242.2 1673.9,236.3 1674.4,232.0 1674.9,228.5 1675.4,225.9 1675.9,225.2 1676.4,225.9 1676.9,227.2 1677.4,228.9 1677.9,230.6 1678.4,232.2 1678.9,233.2 1679.4,234.1 1679.9,235.0 1680.4,235.7 1680.9,236.4 1681.4,236.9 1681.9,237.3 1682.4,237.6 1682.9,237.8 1683.4,238.0 1683.9,238.2 1684.4,238.6 1684.9,239.3 1685.4,241.8 1685.9,246.2 1686.4,252.0 1686.9,258.6 1687.4,266.3 1687.9,277.1 1688.4,289.7 1688.9,305.1 1689.4,322.1 1689.9,338.3 1690.4,354.3 1690.9,370.3 1691.4,386.5 1691.9,402.5 1692.4,418.3 1692.9,433.6 1693.4,447.4 1693.9,459.9 1694.4,462.0 1694.9,465.3 1695.4,469.5 1695.9,474.5 1696.4,479.9 1696.9,486.1 1697.4,494.1 1697.9,503.4 1698.4,513.6 1698.9,525.2 1699.4,538.4 1699.9,553.3 1700.4,572.1 1700.9,593.5 1701.4,614.0 1701.9,631.8 1702.4,649.1 1702.9,663.8 1703.4,673.8 1703.9,681.4 1704.4,687.2 1704.9,691.3 1705.4,694.8 1705.9,696.6 1706.4,696.2 1706.9,695.1 1707.4,693.4 1707.9,691.7 1708.4,690.1 1708.9,689.0 1709.4,688.0 1709.9,687.0 1710.4,686.2 1710.9,685.6 1711.4,685.3 1711.9,685.3 1712.4,685.2 1712.9,685.2 1713.4,685.2 1713.9,685.1 1714.4,685.1 1714.9,683.4 1715.4,679.0 1715.9,672.8 1716.4,665.5 1716.9,657.2 1717.4,645.4 1717.9,631.5 1718.4,614.2 1718.9,595.9 1719.4,578.5 1719.9,561.1 1720.4,543.6 1720.9,526.1 1721.4,508.9 1721.9,491.9 1722.4,476.5 1722.9,462.5 1723.0,459.9 1723.5,457.8 1724.0,454.5 1724.5,450.3 1725.0,445.4 1725.5,439.9 1726.0,433.7 1726.5,425.7 1727.0,416.3 1727.5,406.1 1728.0,394.6 1728.5,381.3 1729.0,366.3 1729.5,347.4 1730.0,325.9 1730.5,305.7 1731.0,287.9 1731.5,270.8 1732.0,256.4 1732.5,246.5 1733.0,239.1 1733.5,233.5 1734.0,229.5 1734.5,226.1 1735.0,224.5 1735.5,224.9 1736.0,226.3 1736.5,228.1 1737.0,230.1 1737.5,231.9 1738.0,233.0 1738.5,234.0 1739.0,235.0 1739.5,235.8 1740.0,236.5 1740.5,237.1 1741.0,237.5 1741.5,237.8 1742.0,238.1 1742.5,238.4 1743.0,238.9 1743.5,239.6 1744.0,242.0 1744.5,246.6 1745.0,252.8 1745.5,259.8 1746.0,268.4 1746.5,280.4 1747.0,294.5 1747.5,311.9 1748.0,329.7 1748.5,346.8 1749.0,363.9 1749.5,381.1 1750.0,398.2 1750.5,415.1 1751.0,431.6 1751.5,446.5 1752.0,459.9" stroke="#cccc00"/></g><rect x="64.5" y="14.5" width="1657" height="861" fill="none" stroke="#000" stroke-width="1"/><path d="M147.5 875v-2M147.5 15v2M239.5 875v-2M239.5 15v2M331.5 875v-5M331.5 15v5M424.5 875v-2M424.5 15v2M516.5 875v-2M516.5 15v2M608.5 875v-2M608.5 15v2M700.5 875v-5M700.5 15v5M792.5 875v-2M792.5 15v2M884.5 875v-2M884.5 15v2M976.5 875v-2M976.5 15v2M1068.5 875v-5M1068.5 15v5M1161.5 875v-2M1161.5 15v2M1253.5 875v-2M1253.5 15v2M1345.5 875v-2M1345.5 15v2M1437.5 875v-5M1437.5 15v5M1529.5 875v-2M1529.5 15v2M1621.5 875v-2M1621.5 15v2M1713.5 875v-2M1713.5 15v2M65 860.5h2M1721 860.5h-2M65 835.5h5M1721 835.5h-5M65 810.5h2M1721 810.5h-2M65 785.5h2M1721 785.5h-2M65 760.5h2M1721 760.5h-2M65 735.5h2M1721 735.5h-2M65 710.5h5M1721 710.5h-5M65 685.5h2M1721 685.5h-2M65 660.5h2M1721 660.5h-2M65 635.5h2M1721 635.5h-2M65 610.5h2M1721 610.5h-2M65 585.5h5M1721 585.5h-5M65 560.5h2M1721 560.5h-2M65 535.5h2M1721 535.5h-2M65 510.5h2M1721 510.5h-2M65 485.5h2M1721 485.5h-2M65 460.5h5M1721 460.5h-5M65 435.5h2M1721 435.5h-2M65 410.5h2M1721 410.5h-2M65 385.5h2M1721 385.5h-2M65 359.5h2M1721 359.5h-2M65 334.5h5M1721 334.5h-5M65 309.5h2M1721 309.5h-2M65 284.5h2M1721 284.5h-2M65 259.5h2M1721 259.5h-2M65 234.5h2M1721 234.5h-2M65 209.5h5M1721 209.5h-5M65 184.5h2M1721 184.5h-2M65 159.5h2M1721 159.5h-2M65 134.5h2M1721 134.5h-2M65 109.5h2M1721 109.5h-2M65 84.5h5M1721 84.5h-5M65 59.5h2M1721 59.5h-2M65 34.5h2M1721 34.5h-2" stroke="#000" stroke-width="1" fill="none"/><g font-family="DejaVu Sans, Liberation Sans, sans-serif" font-size="12" fill="#000"><text x="58.8" y="87.6" text-anchor="end">150</text><text x="58.8" y="212.6" text-anchor="end">100</text><text x="58.8" y="337.6" text-anchor="end">50</text><text x="58.8" y="588.6" text-anchor="end">-50</text><text x="58.8" y="713.6" text-anchor="end">-100</text><text x="58.8" y="838.6" text-anchor="end">-150</text><text x="58.8" y="463.6" text-anchor="end">0</text><text x="331.5" y="890" text-anchor="middle">70400000</text><text x="700.5" y="890" text-anchor="middle">70600000</text><text x="1068.5" y="890" text-anchor="middle">70800000</text><text x="1437.5" y="890" text-anchor="middle">71000000</text><text x="892.5" y="908" text-anchor="middle">Time Axis</text><text transform="translate(17.8,444.5) rotate(-90)" text-anchor="middle">Value Axis</text></g><text x="208" y="47" font-family="DejaVu Sans, Liberation Sans, sans-serif" font-size="16" font-weight="bold" fill="#000">X: 70645256.765 Y: 71.232</text><rect x="1636.5" y="27.5" width="74" height="90" fill="#fff" stroke="#000" stroke-width="1"/><line x1="1643" y1="41.5" x2="1675" y2="41.5" stroke="#ff0000" stroke-width="1"/><text x="1682.3" y="45.0" font-family="DejaVu Sans, Liberation Sans, sans-serif" font-size="12" letter-spacing="0.4" fill="#000">ul1</text><line x1="1643" y1="62.5" x2="1675" y2="62.5" stroke="#0000ff" stroke-width="1"/><text x="1682.3" y="66.0" font-family="DejaVu Sans, Liberation Sans, sans-serif" font-size="12" letter-spacing="0.4" fill="#000">ul2</text><line x1="1643" y1="83.5" x2="1675" y2="83.5" stroke="#00a500" stroke-width="1"/><text x="1682.3" y="87.0" font-family="DejaVu Sans, Liberation Sans, sans-serif" font-size="12" letter-spacing="0.4" fill="#000">il1</text><line x1="1643" y1="104.5" x2="1675" y2="104.5" stroke="#cccc00" stroke-width="1"/><text x="1682.3" y="108.0" font-family="DejaVu Sans, Liberation Sans, sans-serif" font-size="12" letter-spacing="0.4" fill="#000">il2</text>
</svg>
</body></html>
